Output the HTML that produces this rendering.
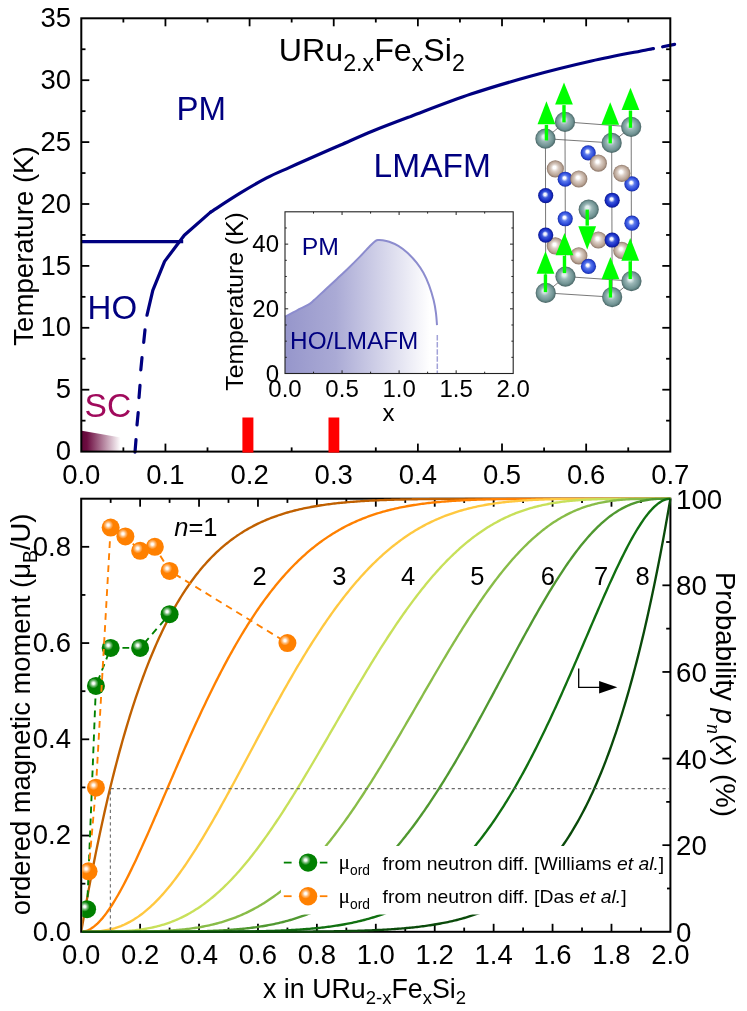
<!DOCTYPE html>
<html><head><meta charset="utf-8"><title>URu2-xFexSi2 phase diagram</title>
<style>html,body{margin:0;padding:0;background:#fff;}svg{display:block;will-change:transform;}text{font-family:"Liberation Sans",sans-serif;}</style></head><body>
<svg width="747" height="1011" viewBox="0 0 747 1011">
<rect x="0" y="0" width="747" height="1011" fill="#fff"/>
<defs>
<linearGradient id="gsc" x1="0" y1="0" x2="1" y2="0"><stop offset="0" stop-color="#600838"/><stop offset="0.12" stop-color="#6c0c40"/><stop offset="0.93" stop-color="#ffffff"/></linearGradient>
<linearGradient id="gin" gradientUnits="userSpaceOnUse" x1="285" y1="0" x2="429.91" y2="0"><stop offset="0" stop-color="#9696cb"/><stop offset="0.35" stop-color="#aaaad5"/><stop offset="1" stop-color="#ffffff"/></linearGradient>
<radialGradient id="gO" cx="0.5" cy="0.5" r="0.5" fx="0.36" fy="0.33"><stop offset="0" stop-color="#ffffff"/><stop offset="0.16" stop-color="#ffffff"/><stop offset="0.42" stop-color="#ff9a38"/><stop offset="0.8" stop-color="#ff8000"/><stop offset="1" stop-color="#f87800"/></radialGradient>
<radialGradient id="gG" cx="0.5" cy="0.5" r="0.5" fx="0.36" fy="0.33"><stop offset="0" stop-color="#ffffff"/><stop offset="0.16" stop-color="#ffffff"/><stop offset="0.42" stop-color="#2f9a2f"/><stop offset="0.8" stop-color="#0a7e0a"/><stop offset="1" stop-color="#087408"/></radialGradient>
<radialGradient id="gU" cx="0.5" cy="0.5" r="0.5" fx="0.42" fy="0.38"><stop offset="0" stop-color="#e2eeee"/><stop offset="0.16" stop-color="#e2eeee"/><stop offset="0.42" stop-color="#9ab6b6"/><stop offset="0.8" stop-color="#6f9292"/><stop offset="1" stop-color="#486464"/></radialGradient>
<radialGradient id="gRu" cx="0.5" cy="0.5" r="0.5" fx="0.44" fy="0.4"><stop offset="0" stop-color="#ffffff"/><stop offset="0.16" stop-color="#ffffff"/><stop offset="0.42" stop-color="#5c7aec"/><stop offset="0.8" stop-color="#2a48d8"/><stop offset="1" stop-color="#182ca4"/></radialGradient>
<radialGradient id="gRuF" cx="0.5" cy="0.5" r="0.5" fx="0.45" fy="0.41"><stop offset="0" stop-color="#f4f6ff"/><stop offset="0.16" stop-color="#f4f6ff"/><stop offset="0.42" stop-color="#3c58dc"/><stop offset="0.8" stop-color="#1428c0"/><stop offset="1" stop-color="#0c1888"/></radialGradient>
<radialGradient id="gSi" cx="0.5" cy="0.5" r="0.5" fx="0.44" fy="0.4"><stop offset="0" stop-color="#ffffff"/><stop offset="0.16" stop-color="#ffffff"/><stop offset="0.42" stop-color="#dccfc6"/><stop offset="0.8" stop-color="#b8a394"/><stop offset="1" stop-color="#8a7466"/></radialGradient>
<radialGradient id="hl" cx="0.5" cy="0.5" r="0.5"><stop offset="0" stop-color="#fff" stop-opacity="1"/><stop offset="0.22" stop-color="#fff" stop-opacity="0.95"/><stop offset="0.58" stop-color="#fff" stop-opacity="0.45"/><stop offset="1" stop-color="#fff" stop-opacity="0"/></radialGradient>
<clipPath id="cpB"><rect x="82.2" y="497.5" width="589.4" height="435.5"/></clipPath>
<clipPath id="cpBd"><rect x="82.2" y="486.7" width="601.2" height="446.1"/></clipPath>
</defs>
<g id="top">
<polygon points="81.9,430.7 123.5,438 123.5,451.6 81.9,451.6" fill="url(#gsc)"/>
<line x1="81.3" y1="241.6" x2="183.2" y2="241.6" stroke="#000080" stroke-width="3.2" />
<polyline points="147,315.2 152.8,290.3 164.6,261.4 184.3,235.3 210.6,212.1" fill="none" stroke="#000080" stroke-width="3.2" stroke-linecap="round" stroke-linejoin="round"/>
<path d="M210.6,212.1 C215.52,208.95 230.75,198.9 240.1,193.2 C249.45,187.5 258.52,182.17 266.7,177.9 C274.88,173.63 282.23,170.75 289.2,167.6 C296.17,164.45 299.93,162.77 308.5,159 C317.07,155.23 329.88,149.67 340.6,145 C351.32,140.33 361.12,135.77 372.8,131 C384.48,126.23 394.33,122.55 410.7,116.4 C427.07,110.25 450.92,100.83 471,94.1 C491.08,87.37 511.13,81.52 531.2,76 C551.27,70.48 572.43,65.3 591.4,61 C610.37,56.7 634.67,52.27 645,50.2 C655.33,48.13 652,48.87 653.4,48.6" fill="none" stroke="#000080" stroke-width="3.2" stroke-linecap="round" stroke-linejoin="round"/>
<line x1="662.6" y1="46.8" x2="674.6" y2="44.4" stroke="#000080" stroke-width="3.2" stroke-linecap="round"/>
<line x1="145" y1="329.8" x2="143.7" y2="342.4" stroke="#000080" stroke-width="3.2" stroke-linecap="round"/>
<line x1="142" y1="357.6" x2="140.8" y2="369.8" stroke="#000080" stroke-width="3.2" stroke-linecap="round"/>
<line x1="140" y1="385.3" x2="139" y2="397.6" stroke="#000080" stroke-width="3.2" stroke-linecap="round"/>
<line x1="138.2" y1="412.7" x2="137" y2="425" stroke="#000080" stroke-width="3.2" stroke-linecap="round"/>
<line x1="136" y1="439.6" x2="135" y2="452.2" stroke="#000080" stroke-width="3.2" stroke-linecap="round"/>
<rect x="81.3" y="18.3" width="589" height="433.3" fill="none" stroke="#000" stroke-width="2"/>
<line x1="123.37" y1="451.6" x2="123.37" y2="447.4" stroke="#000" stroke-width="1.8" />
<line x1="123.37" y1="18.3" x2="123.37" y2="22.5" stroke="#000" stroke-width="1.8" />
<line x1="165.44" y1="451.6" x2="165.44" y2="443.6" stroke="#000" stroke-width="1.8" />
<line x1="165.44" y1="18.3" x2="165.44" y2="26.3" stroke="#000" stroke-width="1.8" />
<line x1="207.51" y1="451.6" x2="207.51" y2="447.4" stroke="#000" stroke-width="1.8" />
<line x1="207.51" y1="18.3" x2="207.51" y2="22.5" stroke="#000" stroke-width="1.8" />
<line x1="249.59" y1="451.6" x2="249.59" y2="443.6" stroke="#000" stroke-width="1.8" />
<line x1="249.59" y1="18.3" x2="249.59" y2="26.3" stroke="#000" stroke-width="1.8" />
<line x1="291.66" y1="451.6" x2="291.66" y2="447.4" stroke="#000" stroke-width="1.8" />
<line x1="291.66" y1="18.3" x2="291.66" y2="22.5" stroke="#000" stroke-width="1.8" />
<line x1="333.73" y1="451.6" x2="333.73" y2="443.6" stroke="#000" stroke-width="1.8" />
<line x1="333.73" y1="18.3" x2="333.73" y2="26.3" stroke="#000" stroke-width="1.8" />
<line x1="375.8" y1="451.6" x2="375.8" y2="447.4" stroke="#000" stroke-width="1.8" />
<line x1="375.8" y1="18.3" x2="375.8" y2="22.5" stroke="#000" stroke-width="1.8" />
<line x1="417.87" y1="451.6" x2="417.87" y2="443.6" stroke="#000" stroke-width="1.8" />
<line x1="417.87" y1="18.3" x2="417.87" y2="26.3" stroke="#000" stroke-width="1.8" />
<line x1="459.94" y1="451.6" x2="459.94" y2="447.4" stroke="#000" stroke-width="1.8" />
<line x1="459.94" y1="18.3" x2="459.94" y2="22.5" stroke="#000" stroke-width="1.8" />
<line x1="502.01" y1="451.6" x2="502.01" y2="443.6" stroke="#000" stroke-width="1.8" />
<line x1="502.01" y1="18.3" x2="502.01" y2="26.3" stroke="#000" stroke-width="1.8" />
<line x1="544.09" y1="451.6" x2="544.09" y2="447.4" stroke="#000" stroke-width="1.8" />
<line x1="544.09" y1="18.3" x2="544.09" y2="22.5" stroke="#000" stroke-width="1.8" />
<line x1="586.16" y1="451.6" x2="586.16" y2="443.6" stroke="#000" stroke-width="1.8" />
<line x1="586.16" y1="18.3" x2="586.16" y2="26.3" stroke="#000" stroke-width="1.8" />
<line x1="628.23" y1="451.6" x2="628.23" y2="447.4" stroke="#000" stroke-width="1.8" />
<line x1="628.23" y1="18.3" x2="628.23" y2="22.5" stroke="#000" stroke-width="1.8" />
<line x1="81.3" y1="420.65" x2="85.5" y2="420.65" stroke="#000" stroke-width="1.8" />
<line x1="670.3" y1="420.65" x2="666.1" y2="420.65" stroke="#000" stroke-width="1.8" />
<line x1="81.3" y1="389.7" x2="89.3" y2="389.7" stroke="#000" stroke-width="1.8" />
<line x1="670.3" y1="389.7" x2="662.3" y2="389.7" stroke="#000" stroke-width="1.8" />
<line x1="81.3" y1="358.75" x2="85.5" y2="358.75" stroke="#000" stroke-width="1.8" />
<line x1="670.3" y1="358.75" x2="666.1" y2="358.75" stroke="#000" stroke-width="1.8" />
<line x1="81.3" y1="327.8" x2="89.3" y2="327.8" stroke="#000" stroke-width="1.8" />
<line x1="670.3" y1="327.8" x2="662.3" y2="327.8" stroke="#000" stroke-width="1.8" />
<line x1="81.3" y1="296.85" x2="85.5" y2="296.85" stroke="#000" stroke-width="1.8" />
<line x1="670.3" y1="296.85" x2="666.1" y2="296.85" stroke="#000" stroke-width="1.8" />
<line x1="81.3" y1="265.9" x2="89.3" y2="265.9" stroke="#000" stroke-width="1.8" />
<line x1="670.3" y1="265.9" x2="662.3" y2="265.9" stroke="#000" stroke-width="1.8" />
<line x1="81.3" y1="234.95" x2="85.5" y2="234.95" stroke="#000" stroke-width="1.8" />
<line x1="670.3" y1="234.95" x2="666.1" y2="234.95" stroke="#000" stroke-width="1.8" />
<line x1="81.3" y1="204" x2="89.3" y2="204" stroke="#000" stroke-width="1.8" />
<line x1="670.3" y1="204" x2="662.3" y2="204" stroke="#000" stroke-width="1.8" />
<line x1="81.3" y1="173.05" x2="85.5" y2="173.05" stroke="#000" stroke-width="1.8" />
<line x1="670.3" y1="173.05" x2="666.1" y2="173.05" stroke="#000" stroke-width="1.8" />
<line x1="81.3" y1="142.1" x2="89.3" y2="142.1" stroke="#000" stroke-width="1.8" />
<line x1="670.3" y1="142.1" x2="662.3" y2="142.1" stroke="#000" stroke-width="1.8" />
<line x1="81.3" y1="111.15" x2="85.5" y2="111.15" stroke="#000" stroke-width="1.8" />
<line x1="670.3" y1="111.15" x2="666.1" y2="111.15" stroke="#000" stroke-width="1.8" />
<line x1="81.3" y1="80.2" x2="89.3" y2="80.2" stroke="#000" stroke-width="1.8" />
<line x1="670.3" y1="80.2" x2="662.3" y2="80.2" stroke="#000" stroke-width="1.8" />
<line x1="81.3" y1="49.25" x2="85.5" y2="49.25" stroke="#000" stroke-width="1.8" />
<line x1="670.3" y1="49.25" x2="666.1" y2="49.25" stroke="#000" stroke-width="1.8" />
<rect x="242.4" y="417.5" width="11" height="35.1" fill="#ff0000"/>
<rect x="328.5" y="417.5" width="10.8" height="35.1" fill="#ff0000"/>
<text x="71" y="460.2" font-size="27.5" text-anchor="end" fill="#000" font-family='"Liberation Sans", sans-serif' >0</text>
<text x="71" y="398.3" font-size="27.5" text-anchor="end" fill="#000" font-family='"Liberation Sans", sans-serif' >5</text>
<text x="71" y="336.4" font-size="27.5" text-anchor="end" fill="#000" font-family='"Liberation Sans", sans-serif' >10</text>
<text x="71" y="274.5" font-size="27.5" text-anchor="end" fill="#000" font-family='"Liberation Sans", sans-serif' >15</text>
<text x="71" y="212.6" font-size="27.5" text-anchor="end" fill="#000" font-family='"Liberation Sans", sans-serif' >20</text>
<text x="71" y="150.7" font-size="27.5" text-anchor="end" fill="#000" font-family='"Liberation Sans", sans-serif' >25</text>
<text x="71" y="88.8" font-size="27.5" text-anchor="end" fill="#000" font-family='"Liberation Sans", sans-serif' >30</text>
<text x="71" y="26.9" font-size="27.5" text-anchor="end" fill="#000" font-family='"Liberation Sans", sans-serif' >35</text>
<text x="81.3" y="483.5" font-size="27.5" text-anchor="middle" fill="#000" font-family='"Liberation Sans", sans-serif' >0.0</text>
<text x="165.44" y="483.5" font-size="27.5" text-anchor="middle" fill="#000" font-family='"Liberation Sans", sans-serif' >0.1</text>
<text x="249.59" y="483.5" font-size="27.5" text-anchor="middle" fill="#000" font-family='"Liberation Sans", sans-serif' >0.2</text>
<text x="333.73" y="483.5" font-size="27.5" text-anchor="middle" fill="#000" font-family='"Liberation Sans", sans-serif' >0.3</text>
<text x="417.87" y="483.5" font-size="27.5" text-anchor="middle" fill="#000" font-family='"Liberation Sans", sans-serif' >0.4</text>
<text x="502.01" y="483.5" font-size="27.5" text-anchor="middle" fill="#000" font-family='"Liberation Sans", sans-serif' >0.5</text>
<text x="586.16" y="483.5" font-size="27.5" text-anchor="middle" fill="#000" font-family='"Liberation Sans", sans-serif' >0.6</text>
<text x="670.3" y="483.5" font-size="27.5" text-anchor="middle" fill="#000" font-family='"Liberation Sans", sans-serif' >0.7</text>
<text transform="translate(32.8,246) rotate(-90)" font-size="27.6" text-anchor="middle">Temperature (K)</text>
<text x="278.8" y="61.3" font-size="32.2">URu<tspan font-size="23.2" dy="9.6">2.x</tspan><tspan dy="-9.6">Fe</tspan><tspan font-size="23.2" dy="9.6">x</tspan><tspan dy="-9.6">Si</tspan><tspan font-size="23.2" dy="9.6">2</tspan></text>
<text x="176.6" y="119.9" font-size="33" text-anchor="start" fill="#000080" font-family='"Liberation Sans", sans-serif' >PM</text>
<text x="373.6" y="176.5" font-size="33.5" text-anchor="start" fill="#000080" font-family='"Liberation Sans", sans-serif' >LMAFM</text>
<text x="87.6" y="318.8" font-size="33" text-anchor="start" fill="#000080" font-family='"Liberation Sans", sans-serif' >HO</text>
<text x="84.6" y="417.3" font-size="33.6" text-anchor="start" fill="#a00a5c" font-family='"Liberation Sans", sans-serif' >SC</text>
</g>
<g id="inset">
<path d="M285,316.7 C287.02,315.63 293.2,312.3 297.1,310.3 C301,308.3 305.57,306.4 308.4,304.7 C311.23,303 311.25,302.65 314.1,300.1 C316.95,297.55 321.7,292.93 325.5,289.4 C329.3,285.87 333.1,282.43 336.9,278.9 C340.7,275.37 344.5,271.87 348.3,268.2 C352.1,264.53 355.92,260.77 359.7,256.9 C363.48,253.03 368.35,247.67 371,245 C373.65,242.33 374.38,241.73 375.6,240.9 C376.82,240.07 377.17,240.12 378.3,240 C379.43,239.88 380.58,239.9 382.4,240.2 C384.22,240.5 386.55,240.85 389.2,241.8 C391.85,242.75 395.27,244.07 398.3,245.9 C401.33,247.73 404.35,250.02 407.4,252.8 C410.45,255.58 413.93,259.27 416.6,262.6 C419.27,265.93 421.32,269.02 423.4,272.8 C425.48,276.58 427.4,280.75 429.1,285.3 C430.8,289.85 432.47,295.55 433.6,300.1 C434.73,304.65 435.33,308.43 435.9,312.6 C436.47,316.77 436.82,323.02 437,325.1 L437.2,373.5 L285,373.5 Z" fill="url(#gin)"/>
<path d="M285,316.7 C287.02,315.63 293.2,312.3 297.1,310.3 C301,308.3 305.57,306.4 308.4,304.7 C311.23,303 311.25,302.65 314.1,300.1 C316.95,297.55 321.7,292.93 325.5,289.4 C329.3,285.87 333.1,282.43 336.9,278.9 C340.7,275.37 344.5,271.87 348.3,268.2 C352.1,264.53 355.92,260.77 359.7,256.9 C363.48,253.03 368.35,247.67 371,245 C373.65,242.33 374.38,241.73 375.6,240.9 C376.82,240.07 377.17,240.12 378.3,240 C379.43,239.88 380.58,239.9 382.4,240.2 C384.22,240.5 386.55,240.85 389.2,241.8 C391.85,242.75 395.27,244.07 398.3,245.9 C401.33,247.73 404.35,250.02 407.4,252.8 C410.45,255.58 413.93,259.27 416.6,262.6 C419.27,265.93 421.32,269.02 423.4,272.8 C425.48,276.58 427.4,280.75 429.1,285.3 C430.8,289.85 432.47,295.55 433.6,300.1 C434.73,304.65 435.33,308.43 435.9,312.6 C436.47,316.77 436.82,323.02 437,325.1" fill="none" stroke="#8c8cce" stroke-width="2"/>
<line x1="437.3" y1="335" x2="437.3" y2="373.5" stroke="#a2a2d8" stroke-width="1.5" stroke-dasharray="5.5,1.6"/>
<rect x="285" y="211.8" width="228.2" height="161.7" fill="none" stroke="#222" stroke-width="1.1"/>
<line x1="313.52" y1="373.5" x2="313.52" y2="371.7" stroke="#222" stroke-width="1" />
<line x1="313.52" y1="211.8" x2="313.52" y2="213.6" stroke="#222" stroke-width="1" />
<line x1="342.05" y1="373.5" x2="342.05" y2="370.3" stroke="#222" stroke-width="1" />
<line x1="342.05" y1="211.8" x2="342.05" y2="215" stroke="#222" stroke-width="1" />
<line x1="370.58" y1="373.5" x2="370.58" y2="371.7" stroke="#222" stroke-width="1" />
<line x1="370.58" y1="211.8" x2="370.58" y2="213.6" stroke="#222" stroke-width="1" />
<line x1="399.1" y1="373.5" x2="399.1" y2="370.3" stroke="#222" stroke-width="1" />
<line x1="399.1" y1="211.8" x2="399.1" y2="215" stroke="#222" stroke-width="1" />
<line x1="427.62" y1="373.5" x2="427.62" y2="371.7" stroke="#222" stroke-width="1" />
<line x1="427.62" y1="211.8" x2="427.62" y2="213.6" stroke="#222" stroke-width="1" />
<line x1="456.15" y1="373.5" x2="456.15" y2="370.3" stroke="#222" stroke-width="1" />
<line x1="456.15" y1="211.8" x2="456.15" y2="215" stroke="#222" stroke-width="1" />
<line x1="484.68" y1="373.5" x2="484.68" y2="371.7" stroke="#222" stroke-width="1" />
<line x1="484.68" y1="211.8" x2="484.68" y2="213.6" stroke="#222" stroke-width="1" />
<line x1="285" y1="357.33" x2="286.8" y2="357.33" stroke="#222" stroke-width="1" />
<line x1="513.2" y1="357.33" x2="511.4" y2="357.33" stroke="#222" stroke-width="1" />
<line x1="285" y1="341.16" x2="286.8" y2="341.16" stroke="#222" stroke-width="1" />
<line x1="513.2" y1="341.16" x2="511.4" y2="341.16" stroke="#222" stroke-width="1" />
<line x1="285" y1="324.99" x2="286.8" y2="324.99" stroke="#222" stroke-width="1" />
<line x1="513.2" y1="324.99" x2="511.4" y2="324.99" stroke="#222" stroke-width="1" />
<line x1="285" y1="308.82" x2="288.2" y2="308.82" stroke="#222" stroke-width="1" />
<line x1="513.2" y1="308.82" x2="510" y2="308.82" stroke="#222" stroke-width="1" />
<line x1="285" y1="292.65" x2="286.8" y2="292.65" stroke="#222" stroke-width="1" />
<line x1="513.2" y1="292.65" x2="511.4" y2="292.65" stroke="#222" stroke-width="1" />
<line x1="285" y1="276.48" x2="286.8" y2="276.48" stroke="#222" stroke-width="1" />
<line x1="513.2" y1="276.48" x2="511.4" y2="276.48" stroke="#222" stroke-width="1" />
<line x1="285" y1="260.31" x2="286.8" y2="260.31" stroke="#222" stroke-width="1" />
<line x1="513.2" y1="260.31" x2="511.4" y2="260.31" stroke="#222" stroke-width="1" />
<line x1="285" y1="244.14" x2="288.2" y2="244.14" stroke="#222" stroke-width="1" />
<line x1="513.2" y1="244.14" x2="510" y2="244.14" stroke="#222" stroke-width="1" />
<line x1="285" y1="227.97" x2="286.8" y2="227.97" stroke="#222" stroke-width="1" />
<line x1="513.2" y1="227.97" x2="511.4" y2="227.97" stroke="#222" stroke-width="1" />
<text x="279" y="381.5" font-size="24" text-anchor="end" fill="#000" font-family='"Liberation Sans", sans-serif' >0</text>
<text x="279" y="316.82" font-size="24" text-anchor="end" fill="#000" font-family='"Liberation Sans", sans-serif' >20</text>
<text x="279" y="252.14" font-size="24" text-anchor="end" fill="#000" font-family='"Liberation Sans", sans-serif' >40</text>
<text x="285" y="396.6" font-size="24" text-anchor="middle" fill="#000" font-family='"Liberation Sans", sans-serif' >0.0</text>
<text x="342.05" y="396.6" font-size="24" text-anchor="middle" fill="#000" font-family='"Liberation Sans", sans-serif' >0.5</text>
<text x="399.1" y="396.6" font-size="24" text-anchor="middle" fill="#000" font-family='"Liberation Sans", sans-serif' >1.0</text>
<text x="456.15" y="396.6" font-size="24" text-anchor="middle" fill="#000" font-family='"Liberation Sans", sans-serif' >1.5</text>
<text x="513.2" y="396.6" font-size="24" text-anchor="middle" fill="#000" font-family='"Liberation Sans", sans-serif' >2.0</text>
<text transform="translate(243.2,301.5) rotate(-90)" font-size="24.7" text-anchor="middle">Temperature (K)</text>
<text x="388.6" y="421.3" font-size="24" text-anchor="middle" fill="#000" font-family='"Liberation Sans", sans-serif' >x</text>
<text x="301.7" y="255.2" font-size="24.8" text-anchor="start" fill="#000080" font-family='"Liberation Sans", sans-serif' >PM</text>
<text x="290.1" y="349.3" font-size="24.3" text-anchor="start" fill="#000080" font-family='"Liberation Sans", sans-serif' >HO/LMAFM</text>
</g>
<g id="crystal">
<line x1="564.98" y1="121.89" x2="545.45" y2="138.7" stroke="#555" stroke-width="0.8" />
<line x1="545.45" y1="138.7" x2="611.68" y2="142.9" stroke="#555" stroke-width="0.8" />
<line x1="611.68" y1="142.9" x2="631.2" y2="126.84" stroke="#555" stroke-width="0.8" />
<line x1="631.2" y1="126.84" x2="564.98" y2="121.89" stroke="#555" stroke-width="0.8" />
<line x1="565.47" y1="276.59" x2="545.7" y2="292.9" stroke="#555" stroke-width="0.8" />
<line x1="545.7" y1="292.9" x2="612.17" y2="297.1" stroke="#555" stroke-width="0.8" />
<line x1="612.17" y1="297.1" x2="631.45" y2="281.04" stroke="#555" stroke-width="0.8" />
<line x1="631.45" y1="281.04" x2="565.47" y2="276.59" stroke="#555" stroke-width="0.8" />
<line x1="564.98" y1="121.89" x2="565.47" y2="276.59" stroke="#555" stroke-width="0.8" />
<line x1="545.45" y1="138.7" x2="545.7" y2="292.9" stroke="#555" stroke-width="0.8" />
<line x1="611.68" y1="142.9" x2="612.17" y2="297.1" stroke="#555" stroke-width="0.8" />
<line x1="631.2" y1="126.84" x2="631.45" y2="281.04" stroke="#555" stroke-width="0.8" />
<circle cx="564.98" cy="121.89" r="10.1" fill="url(#gU)"/>
<circle cx="631.2" cy="126.84" r="10.1" fill="url(#gU)"/>
<circle cx="565.47" cy="276.59" r="10.1" fill="url(#gU)"/>
<circle cx="631.45" cy="281.04" r="10.1" fill="url(#gU)"/>
<circle cx="588.2" cy="152.78" r="7.6" fill="url(#gRu)"/>
<circle cx="598.34" cy="163.16" r="8.6" fill="url(#gSi)"/>
<circle cx="631.94" cy="183.92" r="7.6" fill="url(#gRu)"/>
<circle cx="621.81" cy="173.29" r="8.6" fill="url(#gSi)"/>
<circle cx="555.34" cy="168.85" r="8.6" fill="url(#gSi)"/>
<circle cx="565.22" cy="179.23" r="7.6" fill="url(#gRu)"/>
<circle cx="578.81" cy="178.98" r="8.6" fill="url(#gSi)"/>
<circle cx="565.22" cy="218.76" r="7.6" fill="url(#gRu)"/>
<circle cx="631.94" cy="223.21" r="7.6" fill="url(#gRu)"/>
<circle cx="588.7" cy="209.62" r="10.1" fill="url(#gU)"/>
<circle cx="598.34" cy="240.02" r="8.6" fill="url(#gSi)"/>
<circle cx="621.81" cy="250.4" r="8.6" fill="url(#gSi)"/>
<circle cx="555.34" cy="245.95" r="8.6" fill="url(#gSi)"/>
<circle cx="545.7" cy="195.54" r="7.6" fill="url(#gRuF)"/>
<circle cx="612.17" cy="200.23" r="7.6" fill="url(#gRuF)"/>
<circle cx="545.7" cy="235.07" r="7.6" fill="url(#gRuF)"/>
<circle cx="612.17" cy="240.02" r="7.6" fill="url(#gRuF)"/>
<circle cx="578.81" cy="255.83" r="8.6" fill="url(#gSi)"/>
<circle cx="588.45" cy="266.46" r="7.6" fill="url(#gRu)"/>
<circle cx="545.45" cy="138.7" r="10.1" fill="url(#gU)"/>
<circle cx="611.68" cy="142.9" r="10.1" fill="url(#gU)"/>
<circle cx="545.7" cy="292.9" r="10.1" fill="url(#gU)"/>
<circle cx="612.17" cy="297.1" r="10.1" fill="url(#gU)"/>
<line x1="563.99" y1="122.39" x2="563.99" y2="105.1" stroke="#00ff00" stroke-width="3.4" />
<polygon points="555.09,104.6 572.88,104.6 563.99,82.6" fill="#00ff00"/>
<line x1="630.46" y1="127.83" x2="630.46" y2="110.53" stroke="#00ff00" stroke-width="3.4" />
<polygon points="621.57,110.03 639.36,110.03 630.46,87.79" fill="#00ff00"/>
<line x1="546.44" y1="140.43" x2="546.44" y2="124.87" stroke="#00ff00" stroke-width="3.4" />
<polygon points="537.55,124.37 555.34,124.37 546.44,101.14" fill="#00ff00"/>
<line x1="610.2" y1="143.39" x2="610.2" y2="125.36" stroke="#00ff00" stroke-width="3.4" />
<polygon points="601.3,124.86 619.09,124.86 610.2,102.37" fill="#00ff00"/>
<line x1="587.22" y1="209.62" x2="587.22" y2="225.68" stroke="#00ff00" stroke-width="3.4" />
<polygon points="578.32,226.18 596.11,226.18 587.22,249.41" fill="#00ff00"/>
<line x1="564.48" y1="273.13" x2="564.48" y2="255.84" stroke="#00ff00" stroke-width="3.4" />
<polygon points="555.58,255.34 573.38,255.34 564.48,233.1" fill="#00ff00"/>
<line x1="630.21" y1="279.06" x2="630.21" y2="261.27" stroke="#00ff00" stroke-width="3.4" />
<polygon points="621.32,260.77 639.11,260.77 630.21,238.04" fill="#00ff00"/>
<line x1="545.45" y1="292.16" x2="545.45" y2="274.37" stroke="#00ff00" stroke-width="3.4" />
<polygon points="536.56,273.87 554.35,273.87 545.45,251.14" fill="#00ff00"/>
<line x1="610.44" y1="297.59" x2="610.44" y2="279.81" stroke="#00ff00" stroke-width="3.4" />
<polygon points="601.55,279.31 619.34,279.31 610.44,257.07" fill="#00ff00"/>
</g>
<g id="bottom">
<rect x="81.2" y="498.7" width="589.2" height="433.1" fill="none" stroke="#000" stroke-width="2"/>
<line x1="110.66" y1="931.8" x2="110.66" y2="927.6" stroke="#000" stroke-width="1.8" />
<line x1="110.66" y1="498.7" x2="110.66" y2="502.9" stroke="#000" stroke-width="1.8" />
<line x1="140.12" y1="931.8" x2="140.12" y2="923.8" stroke="#000" stroke-width="1.8" />
<line x1="140.12" y1="498.7" x2="140.12" y2="506.7" stroke="#000" stroke-width="1.8" />
<line x1="169.58" y1="931.8" x2="169.58" y2="927.6" stroke="#000" stroke-width="1.8" />
<line x1="169.58" y1="498.7" x2="169.58" y2="502.9" stroke="#000" stroke-width="1.8" />
<line x1="199.04" y1="931.8" x2="199.04" y2="923.8" stroke="#000" stroke-width="1.8" />
<line x1="199.04" y1="498.7" x2="199.04" y2="506.7" stroke="#000" stroke-width="1.8" />
<line x1="228.5" y1="931.8" x2="228.5" y2="927.6" stroke="#000" stroke-width="1.8" />
<line x1="228.5" y1="498.7" x2="228.5" y2="502.9" stroke="#000" stroke-width="1.8" />
<line x1="257.96" y1="931.8" x2="257.96" y2="923.8" stroke="#000" stroke-width="1.8" />
<line x1="257.96" y1="498.7" x2="257.96" y2="506.7" stroke="#000" stroke-width="1.8" />
<line x1="287.42" y1="931.8" x2="287.42" y2="927.6" stroke="#000" stroke-width="1.8" />
<line x1="287.42" y1="498.7" x2="287.42" y2="502.9" stroke="#000" stroke-width="1.8" />
<line x1="316.88" y1="931.8" x2="316.88" y2="923.8" stroke="#000" stroke-width="1.8" />
<line x1="316.88" y1="498.7" x2="316.88" y2="506.7" stroke="#000" stroke-width="1.8" />
<line x1="346.34" y1="931.8" x2="346.34" y2="927.6" stroke="#000" stroke-width="1.8" />
<line x1="346.34" y1="498.7" x2="346.34" y2="502.9" stroke="#000" stroke-width="1.8" />
<line x1="375.8" y1="931.8" x2="375.8" y2="923.8" stroke="#000" stroke-width="1.8" />
<line x1="375.8" y1="498.7" x2="375.8" y2="506.7" stroke="#000" stroke-width="1.8" />
<line x1="405.26" y1="931.8" x2="405.26" y2="927.6" stroke="#000" stroke-width="1.8" />
<line x1="405.26" y1="498.7" x2="405.26" y2="502.9" stroke="#000" stroke-width="1.8" />
<line x1="434.72" y1="931.8" x2="434.72" y2="923.8" stroke="#000" stroke-width="1.8" />
<line x1="434.72" y1="498.7" x2="434.72" y2="506.7" stroke="#000" stroke-width="1.8" />
<line x1="464.18" y1="931.8" x2="464.18" y2="927.6" stroke="#000" stroke-width="1.8" />
<line x1="464.18" y1="498.7" x2="464.18" y2="502.9" stroke="#000" stroke-width="1.8" />
<line x1="493.64" y1="931.8" x2="493.64" y2="923.8" stroke="#000" stroke-width="1.8" />
<line x1="493.64" y1="498.7" x2="493.64" y2="506.7" stroke="#000" stroke-width="1.8" />
<line x1="523.1" y1="931.8" x2="523.1" y2="927.6" stroke="#000" stroke-width="1.8" />
<line x1="523.1" y1="498.7" x2="523.1" y2="502.9" stroke="#000" stroke-width="1.8" />
<line x1="552.56" y1="931.8" x2="552.56" y2="923.8" stroke="#000" stroke-width="1.8" />
<line x1="552.56" y1="498.7" x2="552.56" y2="506.7" stroke="#000" stroke-width="1.8" />
<line x1="582.02" y1="931.8" x2="582.02" y2="927.6" stroke="#000" stroke-width="1.8" />
<line x1="582.02" y1="498.7" x2="582.02" y2="502.9" stroke="#000" stroke-width="1.8" />
<line x1="611.48" y1="931.8" x2="611.48" y2="923.8" stroke="#000" stroke-width="1.8" />
<line x1="611.48" y1="498.7" x2="611.48" y2="506.7" stroke="#000" stroke-width="1.8" />
<line x1="640.94" y1="931.8" x2="640.94" y2="927.6" stroke="#000" stroke-width="1.8" />
<line x1="640.94" y1="498.7" x2="640.94" y2="502.9" stroke="#000" stroke-width="1.8" />
<line x1="81.2" y1="883.68" x2="85.4" y2="883.68" stroke="#000" stroke-width="1.8" />
<line x1="81.2" y1="835.56" x2="89.2" y2="835.56" stroke="#000" stroke-width="1.8" />
<line x1="81.2" y1="787.43" x2="85.4" y2="787.43" stroke="#000" stroke-width="1.8" />
<line x1="81.2" y1="739.31" x2="89.2" y2="739.31" stroke="#000" stroke-width="1.8" />
<line x1="81.2" y1="691.19" x2="85.4" y2="691.19" stroke="#000" stroke-width="1.8" />
<line x1="81.2" y1="643.07" x2="89.2" y2="643.07" stroke="#000" stroke-width="1.8" />
<line x1="81.2" y1="594.94" x2="85.4" y2="594.94" stroke="#000" stroke-width="1.8" />
<line x1="81.2" y1="546.82" x2="89.2" y2="546.82" stroke="#000" stroke-width="1.8" />
<line x1="670.4" y1="888.49" x2="666.2" y2="888.49" stroke="#000" stroke-width="1.8" />
<line x1="670.4" y1="845.18" x2="662.4" y2="845.18" stroke="#000" stroke-width="1.8" />
<line x1="670.4" y1="801.87" x2="666.2" y2="801.87" stroke="#000" stroke-width="1.8" />
<line x1="670.4" y1="758.56" x2="662.4" y2="758.56" stroke="#000" stroke-width="1.8" />
<line x1="670.4" y1="715.25" x2="666.2" y2="715.25" stroke="#000" stroke-width="1.8" />
<line x1="670.4" y1="671.94" x2="662.4" y2="671.94" stroke="#000" stroke-width="1.8" />
<line x1="670.4" y1="628.63" x2="666.2" y2="628.63" stroke="#000" stroke-width="1.8" />
<line x1="670.4" y1="585.32" x2="662.4" y2="585.32" stroke="#000" stroke-width="1.8" />
<line x1="670.4" y1="542.01" x2="666.2" y2="542.01" stroke="#000" stroke-width="1.8" />
<g clip-path="url(#cpB)">
<polyline points="81.2,931.8 82.67,923.21 84.15,914.78 85.62,906.49 87.09,898.34 88.56,890.34 90.04,882.48 91.51,874.75 92.98,867.17 94.46,859.71 95.93,852.39 97.4,845.2 98.88,838.14 100.35,831.2 101.82,824.39 103.3,817.7 104.77,811.13 106.24,804.68 107.71,798.35 109.19,792.13 110.66,786.03 112.13,780.03 113.61,774.15 115.08,768.37 116.55,762.7 118.03,757.14 119.5,751.68 120.97,746.32 122.44,741.05 123.92,735.89 125.39,730.83 126.86,725.85 128.34,720.98 129.81,716.19 131.28,711.49 132.75,706.89 134.23,702.37 135.7,697.93 137.17,693.58 138.65,689.32 140.12,685.14 141.59,681.03 143.07,677.01 144.54,673.06 146.01,669.19 147.49,665.4 148.96,661.68 150.43,658.03 151.9,654.46 153.38,650.95 154.85,647.52 156.32,644.15 157.8,640.85 159.27,637.61 160.74,634.44 162.22,631.34 163.69,628.29 165.16,625.31 166.63,622.39 168.11,619.52 169.58,616.72 171.05,613.97 172.53,611.27 174,608.64 175.47,606.06 176.94,603.53 178.42,601.05 179.89,598.62 181.36,596.25 182.84,593.92 184.31,591.64 185.78,589.41 187.26,587.23 188.73,585.1 190.2,583 191.68,580.96 193.15,578.95 194.62,576.99 196.09,575.08 197.57,573.2 199.04,571.36 200.51,569.57 201.99,567.81 203.46,566.09 204.93,564.41 206.4,562.76 207.88,561.15 209.35,559.58 210.82,558.04 212.3,556.54 213.77,555.06 215.24,553.63 216.72,552.22 218.19,550.85 219.66,549.5 221.13,548.19 222.61,546.91 224.08,545.65 225.55,544.43 227.03,543.23 228.5,542.06 229.97,540.92 231.45,539.8 232.92,538.71 234.39,537.64 235.87,536.6 237.34,535.59 238.81,534.6 240.28,533.63 241.76,532.68 243.23,531.76 244.7,530.86 246.18,529.98 247.65,529.12 249.12,528.28 250.59,527.47 252.07,526.67 253.54,525.89 255.01,525.13 256.49,524.39 257.96,523.67 259.43,522.96 260.91,522.28 262.38,521.61 263.85,520.95 265.32,520.32 266.8,519.69 268.27,519.09 269.74,518.5 271.22,517.92 272.69,517.36 274.16,516.82 275.64,516.29 277.11,515.77 278.58,515.26 280.06,514.77 281.53,514.29 283,513.83 284.47,513.37 285.95,512.93 287.42,512.5 288.89,512.08 290.37,511.67 291.84,511.28 293.31,510.89 294.78,510.51 296.26,510.15 297.73,509.79 299.2,509.45 300.68,509.11 302.15,508.78 303.62,508.47 305.1,508.16 306.57,507.86 308.04,507.56 309.51,507.28 310.99,507 312.46,506.73 313.93,506.47 315.41,506.22 316.88,505.97 318.35,505.74 319.83,505.5 321.3,505.28 322.77,505.06 324.24,504.85 325.72,504.64 327.19,504.44 328.66,504.25 330.14,504.06 331.61,503.88 333.08,503.7 334.56,503.53 336.03,503.36 337.5,503.2 338.97,503.04 340.45,502.89 341.92,502.74 343.39,502.6 344.87,502.46 346.34,502.33 347.81,502.2 349.29,502.07 350.76,501.95 352.23,501.83 353.7,501.72 355.18,501.61 356.65,501.5 358.12,501.4 359.6,501.3 361.07,501.2 362.54,501.11 364.02,501.02 365.49,500.93 366.96,500.84 368.43,500.76 369.91,500.68 371.38,500.61 372.85,500.53 374.33,500.46 375.8,500.39 377.27,500.33 378.75,500.26 380.22,500.2 381.69,500.14 383.16,500.08 384.64,500.03 386.11,499.97 387.58,499.92 389.06,499.87 390.53,499.82 392,499.78 393.48,499.73 394.95,499.69 396.42,499.65 397.89,499.61 399.37,499.57 400.84,499.53 402.31,499.5 403.79,499.46 405.26,499.43 406.73,499.4 408.21,499.37 409.68,499.34 411.15,499.31 412.62,499.28 414.1,499.26 415.57,499.23 417.04,499.21 418.52,499.18 419.99,499.16 421.46,499.14 422.94,499.12 424.41,499.1 425.88,499.08 427.35,499.06 428.83,499.05 430.3,499.03 431.77,499.01 433.25,499 434.72,498.98 436.19,498.97 437.67,498.96 439.14,498.94 440.61,498.93 442.08,498.92 443.56,498.91 445.03,498.9 446.5,498.89 447.98,498.88 449.45,498.87 450.92,498.86 452.4,498.85 453.87,498.84 455.34,498.84 456.81,498.83 458.29,498.82 459.76,498.82 461.23,498.81 462.71,498.8 464.18,498.8 465.65,498.79 467.13,498.79 468.6,498.78 470.07,498.78 471.54,498.77 473.02,498.77 474.49,498.76 475.96,498.76 477.44,498.76 478.91,498.75 480.38,498.75 481.86,498.75 483.33,498.74 484.8,498.74 486.27,498.74 487.75,498.74 489.22,498.73 490.69,498.73 492.17,498.73 493.64,498.73 495.11,498.73 496.59,498.72 498.06,498.72 499.53,498.72 501,498.72 502.48,498.72 503.95,498.72 505.42,498.72 506.9,498.72 508.37,498.71 509.84,498.71 511.32,498.71 512.79,498.71 514.26,498.71 515.74,498.71 517.21,498.71 518.68,498.71 520.15,498.71 521.63,498.71 523.1,498.71 524.57,498.71 526.05,498.71 527.52,498.71 528.99,498.7 530.46,498.7 531.94,498.7 533.41,498.7 534.88,498.7 536.36,498.7 537.83,498.7 539.3,498.7 540.78,498.7 542.25,498.7 543.72,498.7 545.19,498.7 546.67,498.7 548.14,498.7 549.61,498.7 551.09,498.7 552.56,498.7 554.03,498.7 555.51,498.7 556.98,498.7 558.45,498.7 559.92,498.7 561.4,498.7 562.87,498.7 564.34,498.7 565.82,498.7 567.29,498.7 568.76,498.7 570.24,498.7 571.71,498.7 573.18,498.7 574.65,498.7 576.13,498.7 577.6,498.7 579.07,498.7 580.55,498.7 582.02,498.7 583.49,498.7 584.97,498.7 586.44,498.7 587.91,498.7 589.38,498.7 590.86,498.7 592.33,498.7 593.8,498.7 595.28,498.7 596.75,498.7 598.22,498.7 599.7,498.7 601.17,498.7 602.64,498.7 604.12,498.7 605.59,498.7 607.06,498.7 608.53,498.7 610.01,498.7 611.48,498.7 612.95,498.7 614.43,498.7 615.9,498.7 617.37,498.7 618.84,498.7 620.32,498.7 621.79,498.7 623.26,498.7 624.74,498.7 626.21,498.7 627.68,498.7 629.16,498.7 630.63,498.7 632.1,498.7 633.57,498.7 635.05,498.7 636.52,498.7 637.99,498.7 639.47,498.7 640.94,498.7 642.41,498.7 643.89,498.7 645.36,498.7 646.83,498.7 648.3,498.7 649.78,498.7 651.25,498.7 652.72,498.7 654.2,498.7 655.67,498.7 657.14,498.7 658.62,498.7 660.09,498.7 661.56,498.7 663.03,498.7 664.51,498.7 665.98,498.7 667.45,498.7 668.93,498.7 670.4,498.7" fill="none" stroke="#c06000" stroke-width="2.35" stroke-linejoin="round"/>
<polyline points="81.2,931.8 82.67,931.72 84.15,931.5 85.62,931.14 87.09,930.63 88.56,930 90.04,929.23 91.51,928.34 92.98,927.32 94.46,926.19 95.93,924.94 97.4,923.59 98.88,922.12 100.35,920.56 101.82,918.89 103.3,917.13 104.77,915.28 106.24,913.34 107.71,911.31 109.19,909.2 110.66,907.01 112.13,904.74 113.61,902.4 115.08,899.99 116.55,897.52 118.03,894.97 119.5,892.37 120.97,889.71 122.44,886.99 123.92,884.22 125.39,881.39 126.86,878.52 128.34,875.6 129.81,872.64 131.28,869.63 132.75,866.59 134.23,863.51 135.7,860.39 137.17,857.24 138.65,854.06 140.12,850.86 141.59,847.62 143.07,844.36 144.54,841.08 146.01,837.77 147.49,834.45 148.96,831.11 150.43,827.75 151.9,824.38 153.38,820.99 154.85,817.59 156.32,814.19 157.8,810.77 159.27,807.35 160.74,803.93 162.22,800.49 163.69,797.06 165.16,793.63 166.63,790.19 168.11,786.76 169.58,783.33 171.05,779.9 172.53,776.47 174,773.06 175.47,769.64 176.94,766.24 178.42,762.84 179.89,759.46 181.36,756.08 182.84,752.72 184.31,749.37 185.78,746.03 187.26,742.7 188.73,739.39 190.2,736.1 191.68,732.82 193.15,729.55 194.62,726.31 196.09,723.08 197.57,719.88 199.04,716.69 200.51,713.52 201.99,710.37 203.46,707.24 204.93,704.14 206.4,701.05 207.88,697.99 209.35,694.95 210.82,691.93 212.3,688.94 213.77,685.97 215.24,683.03 216.72,680.11 218.19,677.22 219.66,674.35 221.13,671.51 222.61,668.69 224.08,665.9 225.55,663.13 227.03,660.39 228.5,657.68 229.97,655 231.45,652.34 232.92,649.71 234.39,647.11 235.87,644.53 237.34,641.99 238.81,639.47 240.28,636.98 241.76,634.51 243.23,632.08 244.7,629.67 246.18,627.29 247.65,624.94 249.12,622.62 250.59,620.32 252.07,618.05 253.54,615.82 255.01,613.61 256.49,611.42 257.96,609.27 259.43,607.14 260.91,605.05 262.38,602.98 263.85,600.93 265.32,598.92 266.8,596.93 268.27,594.97 269.74,593.04 271.22,591.14 272.69,589.26 274.16,587.41 275.64,585.58 277.11,583.79 278.58,582.02 280.06,580.27 281.53,578.56 283,576.87 284.47,575.2 285.95,573.56 287.42,571.95 288.89,570.36 290.37,568.8 291.84,567.26 293.31,565.75 294.78,564.26 296.26,562.8 297.73,561.36 299.2,559.94 300.68,558.55 302.15,557.19 303.62,555.84 305.1,554.52 306.57,553.23 308.04,551.95 309.51,550.7 310.99,549.47 312.46,548.26 313.93,547.08 315.41,545.91 316.88,544.77 318.35,543.65 319.83,542.55 321.3,541.47 322.77,540.41 324.24,539.37 325.72,538.36 327.19,537.36 328.66,536.38 330.14,535.42 331.61,534.48 333.08,533.55 334.56,532.65 336.03,531.77 337.5,530.9 338.97,530.05 340.45,529.22 341.92,528.4 343.39,527.61 344.87,526.83 346.34,526.06 347.81,525.32 349.29,524.59 350.76,523.87 352.23,523.17 353.7,522.49 355.18,521.82 356.65,521.17 358.12,520.53 359.6,519.9 361.07,519.29 362.54,518.7 364.02,518.11 365.49,517.54 366.96,516.99 368.43,516.45 369.91,515.92 371.38,515.4 372.85,514.9 374.33,514.41 375.8,513.93 377.27,513.46 378.75,513 380.22,512.56 381.69,512.12 383.16,511.7 384.64,511.29 386.11,510.89 387.58,510.5 389.06,510.12 390.53,509.75 392,509.39 393.48,509.03 394.95,508.69 396.42,508.36 397.89,508.04 399.37,507.72 400.84,507.42 402.31,507.12 403.79,506.83 405.26,506.55 406.73,506.28 408.21,506.01 409.68,505.75 411.15,505.5 412.62,505.26 414.1,505.02 415.57,504.8 417.04,504.57 418.52,504.36 419.99,504.15 421.46,503.95 422.94,503.75 424.41,503.56 425.88,503.38 427.35,503.2 428.83,503.03 430.3,502.86 431.77,502.7 433.25,502.54 434.72,502.39 436.19,502.24 437.67,502.1 439.14,501.96 440.61,501.83 442.08,501.7 443.56,501.58 445.03,501.46 446.5,501.35 447.98,501.23 449.45,501.13 450.92,501.02 452.4,500.92 453.87,500.83 455.34,500.74 456.81,500.65 458.29,500.56 459.76,500.48 461.23,500.4 462.71,500.32 464.18,500.25 465.65,500.18 467.13,500.11 468.6,500.04 470.07,499.98 471.54,499.92 473.02,499.86 474.49,499.8 475.96,499.75 477.44,499.7 478.91,499.65 480.38,499.6 481.86,499.56 483.33,499.51 484.8,499.47 486.27,499.43 487.75,499.39 489.22,499.36 490.69,499.32 492.17,499.29 493.64,499.26 495.11,499.23 496.59,499.2 498.06,499.17 499.53,499.15 501,499.12 502.48,499.1 503.95,499.07 505.42,499.05 506.9,499.03 508.37,499.01 509.84,498.99 511.32,498.98 512.79,498.96 514.26,498.94 515.74,498.93 517.21,498.91 518.68,498.9 520.15,498.89 521.63,498.88 523.1,498.87 524.57,498.85 526.05,498.84 527.52,498.83 528.99,498.83 530.46,498.82 531.94,498.81 533.41,498.8 534.88,498.79 536.36,498.79 537.83,498.78 539.3,498.78 540.78,498.77 542.25,498.76 543.72,498.76 545.19,498.76 546.67,498.75 548.14,498.75 549.61,498.74 551.09,498.74 552.56,498.74 554.03,498.73 555.51,498.73 556.98,498.73 558.45,498.73 559.92,498.72 561.4,498.72 562.87,498.72 564.34,498.72 565.82,498.72 567.29,498.71 568.76,498.71 570.24,498.71 571.71,498.71 573.18,498.71 574.65,498.71 576.13,498.71 577.6,498.71 579.07,498.71 580.55,498.71 582.02,498.71 583.49,498.7 584.97,498.7 586.44,498.7 587.91,498.7 589.38,498.7 590.86,498.7 592.33,498.7 593.8,498.7 595.28,498.7 596.75,498.7 598.22,498.7 599.7,498.7 601.17,498.7 602.64,498.7 604.12,498.7 605.59,498.7 607.06,498.7 608.53,498.7 610.01,498.7 611.48,498.7 612.95,498.7 614.43,498.7 615.9,498.7 617.37,498.7 618.84,498.7 620.32,498.7 621.79,498.7 623.26,498.7 624.74,498.7 626.21,498.7 627.68,498.7 629.16,498.7 630.63,498.7 632.1,498.7 633.57,498.7 635.05,498.7 636.52,498.7 637.99,498.7 639.47,498.7 640.94,498.7 642.41,498.7 643.89,498.7 645.36,498.7 646.83,498.7 648.3,498.7 649.78,498.7 651.25,498.7 652.72,498.7 654.2,498.7 655.67,498.7 657.14,498.7 658.62,498.7 660.09,498.7 661.56,498.7 663.03,498.7 664.51,498.7 665.98,498.7 667.45,498.7 668.93,498.7 670.4,498.7" fill="none" stroke="#ff8000" stroke-width="2.35" stroke-linejoin="round"/>
<polyline points="81.2,931.8 82.67,931.8 84.15,931.8 85.62,931.79 87.09,931.78 88.56,931.75 90.04,931.72 91.51,931.68 92.98,931.62 94.46,931.55 95.93,931.46 97.4,931.35 98.88,931.22 100.35,931.06 101.82,930.89 103.3,930.69 104.77,930.47 106.24,930.22 107.71,929.94 109.19,929.63 110.66,929.29 112.13,928.93 113.61,928.53 115.08,928.1 116.55,927.63 118.03,927.13 119.5,926.6 120.97,926.04 122.44,925.43 123.92,924.8 125.39,924.12 126.86,923.41 128.34,922.66 129.81,921.88 131.28,921.05 132.75,920.19 134.23,919.29 135.7,918.35 137.17,917.37 138.65,916.36 140.12,915.3 141.59,914.21 143.07,913.08 144.54,911.91 146.01,910.7 147.49,909.45 148.96,908.16 150.43,906.84 151.9,905.47 153.38,904.07 154.85,902.63 156.32,901.16 157.8,899.64 159.27,898.09 160.74,896.5 162.22,894.88 163.69,893.22 165.16,891.53 166.63,889.8 168.11,888.03 169.58,886.23 171.05,884.4 172.53,882.53 174,880.63 175.47,878.7 176.94,876.74 178.42,874.74 179.89,872.72 181.36,870.66 182.84,868.58 184.31,866.46 185.78,864.32 187.26,862.15 188.73,859.95 190.2,857.72 191.68,855.47 193.15,853.2 194.62,850.89 196.09,848.57 197.57,846.22 199.04,843.85 200.51,841.45 201.99,839.03 203.46,836.59 204.93,834.14 206.4,831.66 207.88,829.16 209.35,826.65 210.82,824.11 212.3,821.56 213.77,819 215.24,816.41 216.72,813.82 218.19,811.2 219.66,808.58 221.13,805.94 222.61,803.29 224.08,800.63 225.55,797.95 227.03,795.27 228.5,792.58 229.97,789.87 231.45,787.16 232.92,784.45 234.39,781.72 235.87,778.99 237.34,776.25 238.81,773.51 240.28,770.76 241.76,768.01 243.23,765.26 244.7,762.5 246.18,759.74 247.65,756.98 249.12,754.22 250.59,751.46 252.07,748.7 253.54,745.94 255.01,743.18 256.49,740.43 257.96,737.67 259.43,734.92 260.91,732.18 262.38,729.44 263.85,726.7 265.32,723.97 266.8,721.24 268.27,718.52 269.74,715.81 271.22,713.11 272.69,710.41 274.16,707.72 275.64,705.04 277.11,702.37 278.58,699.71 280.06,697.06 281.53,694.43 283,691.8 284.47,689.18 285.95,686.58 287.42,683.99 288.89,681.41 290.37,678.84 291.84,676.29 293.31,673.75 294.78,671.23 296.26,668.72 297.73,666.22 299.2,663.74 300.68,661.28 302.15,658.83 303.62,656.4 305.1,653.99 306.57,651.59 308.04,649.21 309.51,646.84 310.99,644.5 312.46,642.17 313.93,639.86 315.41,637.57 316.88,635.3 318.35,633.04 319.83,630.81 321.3,628.59 322.77,626.4 324.24,624.22 325.72,622.07 327.19,619.93 328.66,617.81 330.14,615.72 331.61,613.64 333.08,611.59 334.56,609.55 336.03,607.54 337.5,605.55 338.97,603.58 340.45,601.63 341.92,599.7 343.39,597.79 344.87,595.9 346.34,594.04 347.81,592.2 349.29,590.37 350.76,588.57 352.23,586.8 353.7,585.04 355.18,583.3 356.65,581.59 358.12,579.9 359.6,578.23 361.07,576.58 362.54,574.96 364.02,573.35 365.49,571.77 366.96,570.21 368.43,568.67 369.91,567.15 371.38,565.66 372.85,564.18 374.33,562.73 375.8,561.3 377.27,559.89 378.75,558.5 380.22,557.13 381.69,555.78 383.16,554.46 384.64,553.15 386.11,551.87 387.58,550.6 389.06,549.36 390.53,548.14 392,546.94 393.48,545.75 394.95,544.59 396.42,543.45 397.89,542.33 399.37,541.23 400.84,540.14 402.31,539.08 403.79,538.04 405.26,537.01 406.73,536 408.21,535.02 409.68,534.05 411.15,533.1 412.62,532.17 414.1,531.25 415.57,530.36 417.04,529.48 418.52,528.62 419.99,527.78 421.46,526.95 422.94,526.14 424.41,525.35 425.88,524.58 427.35,523.82 428.83,523.08 430.3,522.35 431.77,521.64 433.25,520.95 434.72,520.27 436.19,519.61 437.67,518.96 439.14,518.33 440.61,517.71 442.08,517.11 443.56,516.52 445.03,515.94 446.5,515.38 447.98,514.83 449.45,514.3 450.92,513.78 452.4,513.27 453.87,512.78 455.34,512.3 456.81,511.83 458.29,511.37 459.76,510.93 461.23,510.5 462.71,510.07 464.18,509.67 465.65,509.27 467.13,508.88 468.6,508.5 470.07,508.14 471.54,507.78 473.02,507.44 474.49,507.11 475.96,506.78 477.44,506.47 478.91,506.16 480.38,505.86 481.86,505.58 483.33,505.3 484.8,505.03 486.27,504.77 487.75,504.52 489.22,504.27 490.69,504.04 492.17,503.81 493.64,503.59 495.11,503.38 496.59,503.17 498.06,502.97 499.53,502.78 501,502.6 502.48,502.42 503.95,502.25 505.42,502.08 506.9,501.92 508.37,501.77 509.84,501.62 511.32,501.48 512.79,501.34 514.26,501.21 515.74,501.09 517.21,500.97 518.68,500.85 520.15,500.74 521.63,500.63 523.1,500.53 524.57,500.43 526.05,500.34 527.52,500.25 528.99,500.16 530.46,500.08 531.94,500 533.41,499.93 534.88,499.86 536.36,499.79 537.83,499.73 539.3,499.66 540.78,499.61 542.25,499.55 543.72,499.5 545.19,499.45 546.67,499.4 548.14,499.35 549.61,499.31 551.09,499.27 552.56,499.23 554.03,499.2 555.51,499.16 556.98,499.13 558.45,499.1 559.92,499.07 561.4,499.04 562.87,499.02 564.34,499 565.82,498.97 567.29,498.95 568.76,498.93 570.24,498.91 571.71,498.9 573.18,498.88 574.65,498.87 576.13,498.85 577.6,498.84 579.07,498.83 580.55,498.82 582.02,498.8 583.49,498.8 584.97,498.79 586.44,498.78 587.91,498.77 589.38,498.76 590.86,498.76 592.33,498.75 593.8,498.75 595.28,498.74 596.75,498.74 598.22,498.73 599.7,498.73 601.17,498.73 602.64,498.72 604.12,498.72 605.59,498.72 607.06,498.72 608.53,498.71 610.01,498.71 611.48,498.71 612.95,498.71 614.43,498.71 615.9,498.71 617.37,498.71 618.84,498.7 620.32,498.7 621.79,498.7 623.26,498.7 624.74,498.7 626.21,498.7 627.68,498.7 629.16,498.7 630.63,498.7 632.1,498.7 633.57,498.7 635.05,498.7 636.52,498.7 637.99,498.7 639.47,498.7 640.94,498.7 642.41,498.7 643.89,498.7 645.36,498.7 646.83,498.7 648.3,498.7 649.78,498.7 651.25,498.7 652.72,498.7 654.2,498.7 655.67,498.7 657.14,498.7 658.62,498.7 660.09,498.7 661.56,498.7 663.03,498.7 664.51,498.7 665.98,498.7 667.45,498.7 668.93,498.7 670.4,498.7" fill="none" stroke="#ffc840" stroke-width="2.35" stroke-linejoin="round"/>
<polyline points="81.2,931.8 82.67,931.8 84.15,931.8 85.62,931.8 87.09,931.8 88.56,931.8 90.04,931.8 91.51,931.8 92.98,931.8 94.46,931.79 95.93,931.79 97.4,931.78 98.88,931.78 100.35,931.77 101.82,931.76 103.3,931.75 104.77,931.73 106.24,931.71 107.71,931.69 109.19,931.67 110.66,931.64 112.13,931.61 113.61,931.57 115.08,931.53 116.55,931.48 118.03,931.42 119.5,931.36 120.97,931.3 122.44,931.22 123.92,931.14 125.39,931.05 126.86,930.95 128.34,930.85 129.81,930.73 131.28,930.6 132.75,930.47 134.23,930.32 135.7,930.17 137.17,930 138.65,929.82 140.12,929.62 141.59,929.42 143.07,929.2 144.54,928.97 146.01,928.72 147.49,928.46 148.96,928.19 150.43,927.9 151.9,927.59 153.38,927.27 154.85,926.93 156.32,926.57 157.8,926.2 159.27,925.81 160.74,925.4 162.22,924.97 163.69,924.53 165.16,924.06 166.63,923.58 168.11,923.08 169.58,922.55 171.05,922.01 172.53,921.44 174,920.86 175.47,920.25 176.94,919.62 178.42,918.97 179.89,918.3 181.36,917.6 182.84,916.88 184.31,916.14 185.78,915.38 187.26,914.59 188.73,913.78 190.2,912.94 191.68,912.08 193.15,911.2 194.62,910.29 196.09,909.36 197.57,908.41 199.04,907.42 200.51,906.42 201.99,905.39 203.46,904.33 204.93,903.25 206.4,902.14 207.88,901.01 209.35,899.86 210.82,898.67 212.3,897.47 213.77,896.23 215.24,894.98 216.72,893.69 218.19,892.38 219.66,891.05 221.13,889.69 222.61,888.3 224.08,886.89 225.55,885.45 227.03,883.99 228.5,882.51 229.97,881 231.45,879.46 232.92,877.9 234.39,876.31 235.87,874.7 237.34,873.07 238.81,871.41 240.28,869.73 241.76,868.02 243.23,866.29 244.7,864.54 246.18,862.76 247.65,860.96 249.12,859.14 250.59,857.29 252.07,855.42 253.54,853.53 255.01,851.62 256.49,849.69 257.96,847.73 259.43,845.76 260.91,843.76 262.38,841.74 263.85,839.71 265.32,837.65 266.8,835.57 268.27,833.48 269.74,831.36 271.22,829.23 272.69,827.08 274.16,824.91 275.64,822.72 277.11,820.52 278.58,818.3 280.06,816.06 281.53,813.81 283,811.54 284.47,809.25 285.95,806.95 287.42,804.64 288.89,802.31 290.37,799.97 291.84,797.62 293.31,795.25 294.78,792.87 296.26,790.48 297.73,788.08 299.2,785.67 300.68,783.24 302.15,780.81 303.62,778.36 305.1,775.91 306.57,773.45 308.04,770.98 309.51,768.5 310.99,766.01 312.46,763.52 313.93,761.02 315.41,758.51 316.88,756 318.35,753.48 319.83,750.96 321.3,748.43 322.77,745.9 324.24,743.37 325.72,740.83 327.19,738.29 328.66,735.75 330.14,733.21 331.61,730.67 333.08,728.12 334.56,725.58 336.03,723.03 337.5,720.49 338.97,717.95 340.45,715.41 341.92,712.87 343.39,710.33 344.87,707.8 346.34,705.27 347.81,702.74 349.29,700.22 350.76,697.71 352.23,695.19 353.7,692.69 355.18,690.19 356.65,687.69 358.12,685.21 359.6,682.73 361.07,680.25 362.54,677.79 364.02,675.33 365.49,672.89 366.96,670.45 368.43,668.02 369.91,665.6 371.38,663.19 372.85,660.8 374.33,658.41 375.8,656.04 377.27,653.67 378.75,651.32 380.22,648.99 381.69,646.66 383.16,644.35 384.64,642.05 386.11,639.77 387.58,637.5 389.06,635.24 390.53,633 392,630.78 393.48,628.57 394.95,626.37 396.42,624.19 397.89,622.03 399.37,619.88 400.84,617.75 402.31,615.64 403.79,613.55 405.26,611.47 406.73,609.41 408.21,607.37 409.68,605.35 411.15,603.34 412.62,601.36 414.1,599.39 415.57,597.44 417.04,595.51 418.52,593.6 419.99,591.71 421.46,589.84 422.94,587.99 424.41,586.16 425.88,584.35 427.35,582.56 428.83,580.79 430.3,579.04 431.77,577.31 433.25,575.6 434.72,573.92 436.19,572.25 437.67,570.61 439.14,568.98 440.61,567.38 442.08,565.8 443.56,564.24 445.03,562.7 446.5,561.18 447.98,559.69 449.45,558.21 450.92,556.76 452.4,555.33 453.87,553.92 455.34,552.53 456.81,551.16 458.29,549.82 459.76,548.49 461.23,547.19 462.71,545.91 464.18,544.65 465.65,543.41 467.13,542.19 468.6,541 470.07,539.82 471.54,538.67 473.02,537.53 474.49,536.42 475.96,535.33 477.44,534.26 478.91,533.21 480.38,532.18 481.86,531.17 483.33,530.18 484.8,529.21 486.27,528.26 487.75,527.33 489.22,526.42 490.69,525.53 492.17,524.66 493.64,523.81 495.11,522.97 496.59,522.16 498.06,521.36 499.53,520.59 501,519.83 502.48,519.09 503.95,518.37 505.42,517.66 506.9,516.98 508.37,516.31 509.84,515.65 511.32,515.02 512.79,514.4 514.26,513.8 515.74,513.21 517.21,512.64 518.68,512.09 520.15,511.55 521.63,511.03 523.1,510.52 524.57,510.03 526.05,509.55 527.52,509.09 528.99,508.64 530.46,508.21 531.94,507.79 533.41,507.38 534.88,506.99 536.36,506.6 537.83,506.24 539.3,505.88 540.78,505.54 542.25,505.21 543.72,504.89 545.19,504.58 546.67,504.28 548.14,504 549.61,503.72 551.09,503.46 552.56,503.21 554.03,502.96 555.51,502.73 556.98,502.51 558.45,502.29 559.92,502.09 561.4,501.89 562.87,501.7 564.34,501.52 565.82,501.35 567.29,501.19 568.76,501.03 570.24,500.88 571.71,500.74 573.18,500.61 574.65,500.48 576.13,500.36 577.6,500.24 579.07,500.14 580.55,500.03 582.02,499.94 583.49,499.84 584.97,499.76 586.44,499.68 587.91,499.6 589.38,499.53 590.86,499.46 592.33,499.4 593.8,499.34 595.28,499.28 596.75,499.23 598.22,499.18 599.7,499.14 601.17,499.1 602.64,499.06 604.12,499.03 605.59,498.99 607.06,498.96 608.53,498.94 610.01,498.91 611.48,498.89 612.95,498.87 614.43,498.85 615.9,498.83 617.37,498.81 618.84,498.8 620.32,498.79 621.79,498.77 623.26,498.76 624.74,498.76 626.21,498.75 627.68,498.74 629.16,498.73 630.63,498.73 632.1,498.72 633.57,498.72 635.05,498.72 636.52,498.71 637.99,498.71 639.47,498.71 640.94,498.71 642.41,498.71 643.89,498.7 645.36,498.7 646.83,498.7 648.3,498.7 649.78,498.7 651.25,498.7 652.72,498.7 654.2,498.7 655.67,498.7 657.14,498.7 658.62,498.7 660.09,498.7 661.56,498.7 663.03,498.7 664.51,498.7 665.98,498.7 667.45,498.7 668.93,498.7 670.4,498.7" fill="none" stroke="#c8e05a" stroke-width="2.35" stroke-linejoin="round"/>
<polyline points="81.2,931.8 82.67,931.8 84.15,931.8 85.62,931.8 87.09,931.8 88.56,931.8 90.04,931.8 91.51,931.8 92.98,931.8 94.46,931.8 95.93,931.8 97.4,931.8 98.88,931.8 100.35,931.8 101.82,931.8 103.3,931.8 104.77,931.8 106.24,931.8 107.71,931.8 109.19,931.79 110.66,931.79 112.13,931.79 113.61,931.79 115.08,931.79 116.55,931.78 118.03,931.78 119.5,931.78 120.97,931.77 122.44,931.77 123.92,931.76 125.39,931.75 126.86,931.74 128.34,931.74 129.81,931.73 131.28,931.71 132.75,931.7 134.23,931.69 135.7,931.67 137.17,931.65 138.65,931.63 140.12,931.61 141.59,931.59 143.07,931.56 144.54,931.54 146.01,931.51 147.49,931.47 148.96,931.44 150.43,931.4 151.9,931.36 153.38,931.32 154.85,931.27 156.32,931.22 157.8,931.16 159.27,931.1 160.74,931.04 162.22,930.97 163.69,930.9 165.16,930.82 166.63,930.74 168.11,930.66 169.58,930.56 171.05,930.47 172.53,930.36 174,930.26 175.47,930.14 176.94,930.02 178.42,929.89 179.89,929.76 181.36,929.62 182.84,929.47 184.31,929.31 185.78,929.15 187.26,928.98 188.73,928.8 190.2,928.61 191.68,928.41 193.15,928.21 194.62,927.99 196.09,927.77 197.57,927.54 199.04,927.29 200.51,927.04 201.99,926.78 203.46,926.5 204.93,926.22 206.4,925.92 207.88,925.61 209.35,925.29 210.82,924.96 212.3,924.62 213.77,924.26 215.24,923.9 216.72,923.51 218.19,923.12 219.66,922.71 221.13,922.29 222.61,921.86 224.08,921.41 225.55,920.95 227.03,920.47 228.5,919.98 229.97,919.47 231.45,918.95 232.92,918.41 234.39,917.86 235.87,917.29 237.34,916.7 238.81,916.1 240.28,915.48 241.76,914.85 243.23,914.19 244.7,913.52 246.18,912.84 247.65,912.13 249.12,911.41 250.59,910.67 252.07,909.91 253.54,909.14 255.01,908.34 256.49,907.53 257.96,906.69 259.43,905.84 260.91,904.97 262.38,904.08 263.85,903.17 265.32,902.24 266.8,901.29 268.27,900.32 269.74,899.33 271.22,898.32 272.69,897.29 274.16,896.24 275.64,895.17 277.11,894.08 278.58,892.97 280.06,891.83 281.53,890.68 283,889.5 284.47,888.31 285.95,887.09 287.42,885.85 288.89,884.59 290.37,883.31 291.84,882.01 293.31,880.68 294.78,879.34 296.26,877.97 297.73,876.58 299.2,875.17 300.68,873.74 302.15,872.29 303.62,870.81 305.1,869.32 306.57,867.8 308.04,866.26 309.51,864.7 310.99,863.12 312.46,861.52 313.93,859.89 315.41,858.25 316.88,856.58 318.35,854.9 319.83,853.19 321.3,851.46 322.77,849.71 324.24,847.94 325.72,846.15 327.19,844.34 328.66,842.51 330.14,840.66 331.61,838.79 333.08,836.9 334.56,834.99 336.03,833.06 337.5,831.11 338.97,829.14 340.45,827.16 341.92,825.15 343.39,823.13 344.87,821.09 346.34,819.03 347.81,816.95 349.29,814.86 350.76,812.75 352.23,810.62 353.7,808.47 355.18,806.31 356.65,804.13 358.12,801.93 359.6,799.72 361.07,797.5 362.54,795.26 364.02,793 365.49,790.73 366.96,788.45 368.43,786.15 369.91,783.84 371.38,781.51 372.85,779.18 374.33,776.83 375.8,774.46 377.27,772.09 378.75,769.7 380.22,767.31 381.69,764.9 383.16,762.48 384.64,760.05 386.11,757.61 387.58,755.17 389.06,752.71 390.53,750.25 392,747.77 393.48,745.29 394.95,742.81 396.42,740.31 397.89,737.81 399.37,735.31 400.84,732.79 402.31,730.28 403.79,727.76 405.26,725.23 406.73,722.7 408.21,720.17 409.68,717.63 411.15,715.09 412.62,712.55 414.1,710.01 415.57,707.47 417.04,704.92 418.52,702.38 419.99,699.83 421.46,697.29 422.94,694.75 424.41,692.21 425.88,689.67 427.35,687.13 428.83,684.6 430.3,682.07 431.77,679.54 433.25,677.02 434.72,674.5 436.19,671.99 437.67,669.48 439.14,666.98 440.61,664.49 442.08,662 443.56,659.52 445.03,657.05 446.5,654.59 447.98,652.14 449.45,649.69 450.92,647.26 452.4,644.83 453.87,642.42 455.34,640.02 456.81,637.63 458.29,635.25 459.76,632.88 461.23,630.53 462.71,628.19 464.18,625.86 465.65,623.55 467.13,621.25 468.6,618.96 470.07,616.69 471.54,614.44 473.02,612.2 474.49,609.98 475.96,607.78 477.44,605.59 478.91,603.42 480.38,601.27 481.86,599.14 483.33,597.02 484.8,594.93 486.27,592.85 487.75,590.79 489.22,588.76 490.69,586.74 492.17,584.74 493.64,582.77 495.11,580.81 496.59,578.88 498.06,576.97 499.53,575.08 501,573.21 502.48,571.36 503.95,569.54 505.42,567.74 506.9,565.96 508.37,564.21 509.84,562.48 511.32,560.77 512.79,559.09 514.26,557.43 515.74,555.8 517.21,554.19 518.68,552.6 520.15,551.04 521.63,549.5 523.1,547.99 524.57,546.51 526.05,545.05 527.52,543.61 528.99,542.2 530.46,540.81 531.94,539.45 533.41,538.12 534.88,536.81 536.36,535.52 537.83,534.27 539.3,533.03 540.78,531.83 542.25,530.64 543.72,529.49 545.19,528.36 546.67,527.25 548.14,526.17 549.61,525.11 551.09,524.08 552.56,523.08 554.03,522.09 555.51,521.14 556.98,520.21 558.45,519.3 559.92,518.42 561.4,517.56 562.87,516.72 564.34,515.91 565.82,515.12 567.29,514.36 568.76,513.62 570.24,512.9 571.71,512.2 573.18,511.53 574.65,510.88 576.13,510.25 577.6,509.64 579.07,509.06 580.55,508.49 582.02,507.95 583.49,507.42 584.97,506.92 586.44,506.44 587.91,505.97 589.38,505.53 590.86,505.1 592.33,504.69 593.8,504.3 595.28,503.93 596.75,503.57 598.22,503.23 599.7,502.91 601.17,502.6 602.64,502.31 604.12,502.04 605.59,501.78 607.06,501.53 608.53,501.3 610.01,501.08 611.48,500.88 612.95,500.68 614.43,500.5 615.9,500.33 617.37,500.18 618.84,500.03 620.32,499.9 621.79,499.77 623.26,499.65 624.74,499.55 626.21,499.45 627.68,499.36 629.16,499.28 630.63,499.2 632.1,499.14 633.57,499.08 635.05,499.02 636.52,498.97 637.99,498.93 639.47,498.89 640.94,498.86 642.41,498.83 643.89,498.81 645.36,498.79 646.83,498.77 648.3,498.75 649.78,498.74 651.25,498.73 652.72,498.72 654.2,498.72 655.67,498.71 657.14,498.71 658.62,498.7 660.09,498.7 661.56,498.7 663.03,498.7 664.51,498.7 665.98,498.7 667.45,498.7 668.93,498.7 670.4,498.7" fill="none" stroke="#88bc48" stroke-width="2.35" stroke-linejoin="round"/>
<polyline points="81.2,931.8 82.67,931.8 84.15,931.8 85.62,931.8 87.09,931.8 88.56,931.8 90.04,931.8 91.51,931.8 92.98,931.8 94.46,931.8 95.93,931.8 97.4,931.8 98.88,931.8 100.35,931.8 101.82,931.8 103.3,931.8 104.77,931.8 106.24,931.8 107.71,931.8 109.19,931.8 110.66,931.8 112.13,931.8 113.61,931.8 115.08,931.8 116.55,931.8 118.03,931.8 119.5,931.8 120.97,931.8 122.44,931.8 123.92,931.8 125.39,931.8 126.86,931.8 128.34,931.8 129.81,931.8 131.28,931.8 132.75,931.8 134.23,931.79 135.7,931.79 137.17,931.79 138.65,931.79 140.12,931.79 141.59,931.79 143.07,931.79 144.54,931.78 146.01,931.78 147.49,931.78 148.96,931.78 150.43,931.77 151.9,931.77 153.38,931.77 154.85,931.76 156.32,931.76 157.8,931.75 159.27,931.75 160.74,931.74 162.22,931.74 163.69,931.73 165.16,931.72 166.63,931.71 168.11,931.7 169.58,931.7 171.05,931.68 172.53,931.67 174,931.66 175.47,931.65 176.94,931.63 178.42,931.62 179.89,931.6 181.36,931.59 182.84,931.57 184.31,931.55 185.78,931.53 187.26,931.5 188.73,931.48 190.2,931.46 191.68,931.43 193.15,931.4 194.62,931.37 196.09,931.34 197.57,931.3 199.04,931.27 200.51,931.23 201.99,931.19 203.46,931.15 204.93,931.1 206.4,931.05 207.88,931 209.35,930.95 210.82,930.89 212.3,930.84 213.77,930.77 215.24,930.71 216.72,930.64 218.19,930.57 219.66,930.5 221.13,930.42 222.61,930.34 224.08,930.25 225.55,930.16 227.03,930.07 228.5,929.97 229.97,929.87 231.45,929.76 232.92,929.65 234.39,929.53 235.87,929.41 237.34,929.29 238.81,929.16 240.28,929.02 241.76,928.88 243.23,928.73 244.7,928.58 246.18,928.42 247.65,928.25 249.12,928.08 250.59,927.9 252.07,927.72 253.54,927.53 255.01,927.33 256.49,927.12 257.96,926.91 259.43,926.69 260.91,926.46 262.38,926.23 263.85,925.98 265.32,925.73 266.8,925.47 268.27,925.2 269.74,924.92 271.22,924.64 272.69,924.34 274.16,924.03 275.64,923.72 277.11,923.39 278.58,923.06 280.06,922.72 281.53,922.36 283,922 284.47,921.62 285.95,921.23 287.42,920.83 288.89,920.43 290.37,920 291.84,919.57 293.31,919.13 294.78,918.67 296.26,918.2 297.73,917.72 299.2,917.23 300.68,916.72 302.15,916.2 303.62,915.67 305.1,915.12 306.57,914.56 308.04,913.98 309.51,913.39 310.99,912.79 312.46,912.17 313.93,911.54 315.41,910.89 316.88,910.23 318.35,909.55 319.83,908.86 321.3,908.15 322.77,907.42 324.24,906.68 325.72,905.92 327.19,905.15 328.66,904.36 330.14,903.55 331.61,902.72 333.08,901.88 334.56,901.02 336.03,900.14 337.5,899.25 338.97,898.33 340.45,897.4 341.92,896.45 343.39,895.48 344.87,894.5 346.34,893.49 347.81,892.46 349.29,891.42 350.76,890.36 352.23,889.27 353.7,888.17 355.18,887.05 356.65,885.91 358.12,884.75 359.6,883.56 361.07,882.36 362.54,881.14 364.02,879.9 365.49,878.63 366.96,877.35 368.43,876.04 369.91,874.72 371.38,873.37 372.85,872 374.33,870.61 375.8,869.2 377.27,867.77 378.75,866.32 380.22,864.84 381.69,863.35 383.16,861.83 384.64,860.29 386.11,858.73 387.58,857.15 389.06,855.54 390.53,853.92 392,852.27 393.48,850.6 394.95,848.91 396.42,847.2 397.89,845.46 399.37,843.7 400.84,841.93 402.31,840.13 403.79,838.3 405.26,836.46 406.73,834.6 408.21,832.71 409.68,830.8 411.15,828.87 412.62,826.92 414.1,824.95 415.57,822.96 417.04,820.95 418.52,818.91 419.99,816.86 421.46,814.78 422.94,812.69 424.41,810.57 425.88,808.43 427.35,806.28 428.83,804.1 430.3,801.91 431.77,799.69 433.25,797.46 434.72,795.2 436.19,792.93 437.67,790.64 439.14,788.33 440.61,786 442.08,783.66 443.56,781.29 445.03,778.91 446.5,776.51 447.98,774.1 449.45,771.67 450.92,769.22 452.4,766.76 453.87,764.28 455.34,761.78 456.81,759.27 458.29,756.75 459.76,754.21 461.23,751.66 462.71,749.09 464.18,746.51 465.65,743.92 467.13,741.32 468.6,738.7 470.07,736.07 471.54,733.44 473.02,730.79 474.49,728.13 475.96,725.46 477.44,722.78 478.91,720.09 480.38,717.39 481.86,714.69 483.33,711.98 484.8,709.26 486.27,706.53 487.75,703.8 489.22,701.06 490.69,698.32 492.17,695.58 493.64,692.83 495.11,690.07 496.59,687.32 498.06,684.56 499.53,681.8 501,679.04 502.48,676.28 503.95,673.52 505.42,670.76 506.9,668 508.37,665.24 509.84,662.49 511.32,659.74 512.79,656.99 514.26,654.25 515.74,651.51 517.21,648.78 518.68,646.05 520.15,643.34 521.63,640.63 523.1,637.92 524.57,635.23 526.05,632.55 527.52,629.87 528.99,627.21 530.46,624.56 531.94,621.92 533.41,619.3 534.88,616.68 536.36,614.09 537.83,611.5 539.3,608.94 540.78,606.39 542.25,603.85 543.72,601.34 545.19,598.84 546.67,596.36 548.14,593.91 549.61,591.47 551.09,589.05 552.56,586.65 554.03,584.28 555.51,581.93 556.98,579.61 558.45,577.3 559.92,575.03 561.4,572.78 562.87,570.55 564.34,568.35 565.82,566.18 567.29,564.04 568.76,561.92 570.24,559.84 571.71,557.78 573.18,555.76 574.65,553.76 576.13,551.8 577.6,549.87 579.07,547.97 580.55,546.1 582.02,544.27 583.49,542.47 584.97,540.7 586.44,538.97 587.91,537.28 589.38,535.62 590.86,534 592.33,532.41 593.8,530.86 595.28,529.34 596.75,527.87 598.22,526.43 599.7,525.03 601.17,523.66 602.64,522.34 604.12,521.05 605.59,519.8 607.06,518.59 608.53,517.42 610.01,516.29 611.48,515.2 612.95,514.14 614.43,513.13 615.9,512.15 617.37,511.21 618.84,510.31 620.32,509.45 621.79,508.62 623.26,507.84 624.74,507.09 626.21,506.38 627.68,505.7 629.16,505.07 630.63,504.46 632.1,503.9 633.57,503.37 635.05,502.87 636.52,502.4 637.99,501.97 639.47,501.57 640.94,501.21 642.41,500.87 643.89,500.56 645.36,500.28 646.83,500.03 648.3,499.81 649.78,499.61 651.25,499.44 652.72,499.28 654.2,499.15 655.67,499.04 657.14,498.95 658.62,498.88 660.09,498.82 661.56,498.78 663.03,498.75 664.51,498.72 665.98,498.71 667.45,498.7 668.93,498.7 670.4,498.7" fill="none" stroke="#509830" stroke-width="2.35" stroke-linejoin="round"/>
<polyline points="81.2,931.8 82.67,931.8 84.15,931.8 85.62,931.8 87.09,931.8 88.56,931.8 90.04,931.8 91.51,931.8 92.98,931.8 94.46,931.8 95.93,931.8 97.4,931.8 98.88,931.8 100.35,931.8 101.82,931.8 103.3,931.8 104.77,931.8 106.24,931.8 107.71,931.8 109.19,931.8 110.66,931.8 112.13,931.8 113.61,931.8 115.08,931.8 116.55,931.8 118.03,931.8 119.5,931.8 120.97,931.8 122.44,931.8 123.92,931.8 125.39,931.8 126.86,931.8 128.34,931.8 129.81,931.8 131.28,931.8 132.75,931.8 134.23,931.8 135.7,931.8 137.17,931.8 138.65,931.8 140.12,931.8 141.59,931.8 143.07,931.8 144.54,931.8 146.01,931.8 147.49,931.8 148.96,931.8 150.43,931.8 151.9,931.8 153.38,931.8 154.85,931.8 156.32,931.8 157.8,931.8 159.27,931.8 160.74,931.8 162.22,931.8 163.69,931.8 165.16,931.8 166.63,931.8 168.11,931.8 169.58,931.79 171.05,931.79 172.53,931.79 174,931.79 175.47,931.79 176.94,931.79 178.42,931.79 179.89,931.79 181.36,931.79 182.84,931.79 184.31,931.79 185.78,931.78 187.26,931.78 188.73,931.78 190.2,931.78 191.68,931.78 193.15,931.77 194.62,931.77 196.09,931.77 197.57,931.77 199.04,931.76 200.51,931.76 201.99,931.76 203.46,931.75 204.93,931.75 206.4,931.74 207.88,931.74 209.35,931.74 210.82,931.73 212.3,931.72 213.77,931.72 215.24,931.71 216.72,931.71 218.19,931.7 219.66,931.69 221.13,931.68 222.61,931.67 224.08,931.67 225.55,931.66 227.03,931.65 228.5,931.63 229.97,931.62 231.45,931.61 232.92,931.6 234.39,931.59 235.87,931.57 237.34,931.56 238.81,931.54 240.28,931.52 241.76,931.51 243.23,931.49 244.7,931.47 246.18,931.45 247.65,931.43 249.12,931.4 250.59,931.38 252.07,931.35 253.54,931.33 255.01,931.3 256.49,931.27 257.96,931.24 259.43,931.21 260.91,931.18 262.38,931.14 263.85,931.11 265.32,931.07 266.8,931.03 268.27,930.99 269.74,930.94 271.22,930.9 272.69,930.85 274.16,930.8 275.64,930.75 277.11,930.7 278.58,930.64 280.06,930.58 281.53,930.52 283,930.46 284.47,930.39 285.95,930.32 287.42,930.25 288.89,930.18 290.37,930.1 291.84,930.02 293.31,929.94 294.78,929.85 296.26,929.76 297.73,929.67 299.2,929.58 300.68,929.48 302.15,929.37 303.62,929.27 305.1,929.15 306.57,929.04 308.04,928.92 309.51,928.8 310.99,928.67 312.46,928.54 313.93,928.4 315.41,928.26 316.88,928.11 318.35,927.96 319.83,927.8 321.3,927.64 322.77,927.47 324.24,927.3 325.72,927.12 327.19,926.94 328.66,926.75 330.14,926.55 331.61,926.35 333.08,926.14 334.56,925.93 336.03,925.7 337.5,925.48 338.97,925.24 340.45,925 341.92,924.75 343.39,924.49 344.87,924.22 346.34,923.95 347.81,923.67 349.29,923.38 350.76,923.08 352.23,922.78 353.7,922.46 355.18,922.14 356.65,921.81 358.12,921.47 359.6,921.11 361.07,920.75 362.54,920.38 364.02,920 365.49,919.61 366.96,919.21 368.43,918.8 369.91,918.38 371.38,917.94 372.85,917.5 374.33,917.04 375.8,916.57 377.27,916.09 378.75,915.6 380.22,915.1 381.69,914.58 383.16,914.05 384.64,913.51 386.11,912.96 387.58,912.39 389.06,911.8 390.53,911.21 392,910.6 393.48,909.97 394.95,909.33 396.42,908.68 397.89,908.01 399.37,907.33 400.84,906.63 402.31,905.91 403.79,905.18 405.26,904.44 406.73,903.67 408.21,902.89 409.68,902.1 411.15,901.28 412.62,900.45 414.1,899.6 415.57,898.73 417.04,897.85 418.52,896.95 419.99,896.02 421.46,895.08 422.94,894.12 424.41,893.14 425.88,892.14 427.35,891.13 428.83,890.09 430.3,889.03 431.77,887.95 433.25,886.85 434.72,885.73 436.19,884.59 437.67,883.42 439.14,882.24 440.61,881.03 442.08,879.8 443.56,878.55 445.03,877.27 446.5,875.98 447.98,874.66 449.45,873.31 450.92,871.95 452.4,870.56 453.87,869.14 455.34,867.7 456.81,866.24 458.29,864.75 459.76,863.24 461.23,861.7 462.71,860.14 464.18,858.55 465.65,856.94 467.13,855.3 468.6,853.63 470.07,851.94 471.54,850.23 473.02,848.48 474.49,846.71 475.96,844.92 477.44,843.09 478.91,841.24 480.38,839.36 481.86,837.46 483.33,835.53 484.8,833.57 486.27,831.58 487.75,829.57 489.22,827.52 490.69,825.45 492.17,823.36 493.64,821.23 495.11,819.08 496.59,816.89 498.06,814.68 499.53,812.45 501,810.18 502.48,807.88 503.95,805.56 505.42,803.21 506.9,800.83 508.37,798.42 509.84,795.99 511.32,793.52 512.79,791.03 514.26,788.51 515.74,785.97 517.21,783.39 518.68,780.79 520.15,778.16 521.63,775.5 523.1,772.82 524.57,770.11 526.05,767.37 527.52,764.6 528.99,761.81 530.46,758.99 531.94,756.15 533.41,753.28 534.88,750.39 536.36,747.47 537.83,744.53 539.3,741.56 540.78,738.57 542.25,735.55 543.72,732.51 545.19,729.45 546.67,726.36 548.14,723.26 549.61,720.13 551.09,716.98 552.56,713.81 554.03,710.62 555.51,707.42 556.98,704.19 558.45,700.95 559.92,697.68 561.4,694.4 562.87,691.11 564.34,687.8 565.82,684.47 567.29,681.13 568.76,677.78 570.24,674.42 571.71,671.04 573.18,667.66 574.65,664.26 576.13,660.86 577.6,657.44 579.07,654.03 580.55,650.6 582.02,647.17 583.49,643.74 584.97,640.31 586.44,636.87 587.91,633.44 589.38,630.01 590.86,626.57 592.33,623.15 593.8,619.73 595.28,616.31 596.75,612.91 598.22,609.51 599.7,606.12 601.17,602.75 602.64,599.39 604.12,596.05 605.59,592.73 607.06,589.42 608.53,586.14 610.01,582.88 611.48,579.64 612.95,576.44 614.43,573.26 615.9,570.11 617.37,566.99 618.84,563.91 620.32,560.87 621.79,557.86 623.26,554.9 624.74,551.98 626.21,549.11 627.68,546.28 629.16,543.51 630.63,540.79 632.1,538.13 633.57,535.53 635.05,532.98 636.52,530.51 637.99,528.1 639.47,525.76 640.94,523.49 642.41,521.3 643.89,519.19 645.36,517.16 646.83,515.22 648.3,513.37 649.78,511.61 651.25,509.94 652.72,508.38 654.2,506.91 655.67,505.56 657.14,504.31 658.62,503.18 660.09,502.16 661.56,501.27 663.03,500.5 664.51,499.87 665.98,499.36 667.45,499 668.93,498.78 670.4,498.7" fill="none" stroke="#107010" stroke-width="2.35" stroke-linejoin="round"/>
<polyline points="81.2,931.8 82.67,931.8 84.15,931.8 85.62,931.8 87.09,931.8 88.56,931.8 90.04,931.8 91.51,931.8 92.98,931.8 94.46,931.8 95.93,931.8 97.4,931.8 98.88,931.8 100.35,931.8 101.82,931.8 103.3,931.8 104.77,931.8 106.24,931.8 107.71,931.8 109.19,931.8 110.66,931.8 112.13,931.8 113.61,931.8 115.08,931.8 116.55,931.8 118.03,931.8 119.5,931.8 120.97,931.8 122.44,931.8 123.92,931.8 125.39,931.8 126.86,931.8 128.34,931.8 129.81,931.8 131.28,931.8 132.75,931.8 134.23,931.8 135.7,931.8 137.17,931.8 138.65,931.8 140.12,931.8 141.59,931.8 143.07,931.8 144.54,931.8 146.01,931.8 147.49,931.8 148.96,931.8 150.43,931.8 151.9,931.8 153.38,931.8 154.85,931.8 156.32,931.8 157.8,931.8 159.27,931.8 160.74,931.8 162.22,931.8 163.69,931.8 165.16,931.8 166.63,931.8 168.11,931.8 169.58,931.8 171.05,931.8 172.53,931.8 174,931.8 175.47,931.8 176.94,931.8 178.42,931.8 179.89,931.8 181.36,931.8 182.84,931.8 184.31,931.8 185.78,931.8 187.26,931.8 188.73,931.8 190.2,931.8 191.68,931.8 193.15,931.8 194.62,931.8 196.09,931.8 197.57,931.8 199.04,931.8 200.51,931.8 201.99,931.8 203.46,931.8 204.93,931.8 206.4,931.8 207.88,931.8 209.35,931.8 210.82,931.8 212.3,931.8 213.77,931.8 215.24,931.8 216.72,931.8 218.19,931.8 219.66,931.8 221.13,931.8 222.61,931.8 224.08,931.79 225.55,931.79 227.03,931.79 228.5,931.79 229.97,931.79 231.45,931.79 232.92,931.79 234.39,931.79 235.87,931.79 237.34,931.79 238.81,931.79 240.28,931.79 241.76,931.79 243.23,931.79 244.7,931.78 246.18,931.78 247.65,931.78 249.12,931.78 250.59,931.78 252.07,931.78 253.54,931.78 255.01,931.78 256.49,931.77 257.96,931.77 259.43,931.77 260.91,931.77 262.38,931.77 263.85,931.76 265.32,931.76 266.8,931.76 268.27,931.76 269.74,931.75 271.22,931.75 272.69,931.75 274.16,931.74 275.64,931.74 277.11,931.74 278.58,931.73 280.06,931.73 281.53,931.72 283,931.72 284.47,931.71 285.95,931.71 287.42,931.7 288.89,931.7 290.37,931.69 291.84,931.68 293.31,931.68 294.78,931.67 296.26,931.66 297.73,931.66 299.2,931.65 300.68,931.64 302.15,931.63 303.62,931.62 305.1,931.61 306.57,931.6 308.04,931.59 309.51,931.58 310.99,931.57 312.46,931.56 313.93,931.54 315.41,931.53 316.88,931.52 318.35,931.5 319.83,931.49 321.3,931.47 322.77,931.45 324.24,931.44 325.72,931.42 327.19,931.4 328.66,931.38 330.14,931.36 331.61,931.34 333.08,931.32 334.56,931.29 336.03,931.27 337.5,931.24 338.97,931.22 340.45,931.19 341.92,931.16 343.39,931.13 344.87,931.1 346.34,931.07 347.81,931.04 349.29,931 350.76,930.97 352.23,930.93 353.7,930.89 355.18,930.85 356.65,930.81 358.12,930.77 359.6,930.72 361.07,930.68 362.54,930.63 364.02,930.58 365.49,930.53 366.96,930.47 368.43,930.42 369.91,930.36 371.38,930.3 372.85,930.24 374.33,930.17 375.8,930.11 377.27,930.04 378.75,929.97 380.22,929.89 381.69,929.82 383.16,929.74 384.64,929.66 386.11,929.57 387.58,929.48 389.06,929.39 390.53,929.3 392,929.2 393.48,929.1 394.95,929 396.42,928.89 397.89,928.78 399.37,928.67 400.84,928.55 402.31,928.43 403.79,928.3 405.26,928.17 406.73,928.04 408.21,927.9 409.68,927.76 411.15,927.61 412.62,927.46 414.1,927.3 415.57,927.14 417.04,926.97 418.52,926.8 419.99,926.62 421.46,926.44 422.94,926.25 424.41,926.06 425.88,925.86 427.35,925.65 428.83,925.44 430.3,925.22 431.77,925 433.25,924.76 434.72,924.53 436.19,924.28 437.67,924.03 439.14,923.77 440.61,923.5 442.08,923.22 443.56,922.94 445.03,922.64 446.5,922.34 447.98,922.03 449.45,921.72 450.92,921.39 452.4,921.05 453.87,920.71 455.34,920.35 456.81,919.99 458.29,919.61 459.76,919.22 461.23,918.83 462.71,918.42 464.18,918 465.65,917.57 467.13,917.13 468.6,916.67 470.07,916.21 471.54,915.73 473.02,915.24 474.49,914.73 475.96,914.21 477.44,913.68 478.91,913.14 480.38,912.58 481.86,912 483.33,911.41 484.8,910.81 486.27,910.18 487.75,909.55 489.22,908.89 490.69,908.22 492.17,907.54 493.64,906.83 495.11,906.11 496.59,905.37 498.06,904.61 499.53,903.83 501,903.03 502.48,902.22 503.95,901.38 505.42,900.52 506.9,899.64 508.37,898.74 509.84,897.82 511.32,896.87 512.79,895.9 514.26,894.91 515.74,893.9 517.21,892.86 518.68,891.79 520.15,890.7 521.63,889.58 523.1,888.44 524.57,887.27 526.05,886.07 527.52,884.85 528.99,883.59 530.46,882.31 531.94,881 533.41,879.65 534.88,878.28 536.36,876.87 537.83,875.44 539.3,873.96 540.78,872.46 542.25,870.92 543.72,869.35 545.19,867.74 546.67,866.09 548.14,864.41 549.61,862.69 551.09,860.93 552.56,859.14 554.03,857.3 555.51,855.42 556.98,853.51 558.45,851.55 559.92,849.54 561.4,847.5 562.87,845.4 564.34,843.27 565.82,841.09 567.29,838.86 568.76,836.58 570.24,834.25 571.71,831.88 573.18,829.45 574.65,826.97 576.13,824.44 577.6,821.86 579.07,819.23 580.55,816.53 582.02,813.78 583.49,810.98 584.97,808.11 586.44,805.19 587.91,802.21 589.38,799.16 590.86,796.06 592.33,792.89 593.8,789.65 595.28,786.35 596.75,782.98 598.22,779.55 599.7,776.04 601.17,772.47 602.64,768.82 604.12,765.1 605.59,761.31 607.06,757.44 608.53,753.49 610.01,749.47 611.48,745.36 612.95,741.18 614.43,736.92 615.9,732.57 617.37,728.13 618.84,723.61 620.32,719.01 621.79,714.31 623.26,709.52 624.74,704.65 626.21,699.67 627.68,694.61 629.16,689.45 630.63,684.18 632.1,678.82 633.57,673.36 635.05,667.8 636.52,662.13 637.99,656.35 639.47,650.47 640.94,644.47 642.41,638.37 643.89,632.15 645.36,625.82 646.83,619.37 648.3,612.8 649.78,606.11 651.25,599.3 652.72,592.36 654.2,585.3 655.67,578.11 657.14,570.79 658.62,563.33 660.09,555.75 661.56,548.02 663.03,540.16 664.51,532.16 665.98,524.01 667.45,515.72 668.93,507.29 670.4,498.7" fill="none" stroke="#0a4a0a" stroke-width="2.35" stroke-linejoin="round"/>
</g>
<line x1="110.36" y1="930.8" x2="110.36" y2="788.62" stroke="#6a6a6a" stroke-width="1.1" stroke-dasharray="3.2,3"/>
<line x1="110.66" y1="788.62" x2="669.4" y2="788.62" stroke="#6a6a6a" stroke-width="1.1" stroke-dasharray="3.2,3"/>
<rect x="281" y="846" width="386" height="68.5" fill="#fff"/>
<line x1="283.8" y1="862.6" x2="291.6" y2="862.6" stroke="#008000" stroke-width="1.8" />
<line x1="319.8" y1="862.6" x2="327.4" y2="862.6" stroke="#008000" stroke-width="1.8" />
<circle cx="308.1" cy="862.6" r="9.2" fill="#008000"/>
<circle cx="305.62" cy="860.02" r="5.15" fill="url(#hl)"/>
<text x="338.4" y="869.4" font-size="21.5" style="font-family:&quot;Liberation Serif&quot;,serif">&#956;</text>
<text x="350" y="875.3" font-size="13.8">ord</text>
<text transform="translate(382.6,869.8) scale(1.077,1)" font-size="18">from neutron diff. [Williams <tspan font-style="italic">et al.</tspan>]</text>
<line x1="283.8" y1="896.2" x2="291.6" y2="896.2" stroke="#ff8000" stroke-width="1.8" />
<line x1="319.8" y1="896.2" x2="327.4" y2="896.2" stroke="#ff8000" stroke-width="1.8" />
<circle cx="308.1" cy="896.2" r="9.2" fill="#ff8000"/>
<circle cx="305.62" cy="893.62" r="5.15" fill="url(#hl)"/>
<text x="338.4" y="903" font-size="21.5" style="font-family:&quot;Liberation Serif&quot;,serif">&#956;</text>
<text x="350" y="908.9" font-size="13.8">ord</text>
<text transform="translate(382.6,903.4) scale(1.077,1)" font-size="18">from neutron diff. [Das <tspan font-style="italic">et al.</tspan>]</text>
<g clip-path="url(#cpB)">
<polyline points="87.09,909.18 95.93,685.9 110.66,647.88 140.12,647.88 169.58,614.19" fill="none" stroke="#008000" stroke-width="1.9" stroke-dasharray="6.8,5.2"/>
<circle cx="87.09" cy="909.18" r="9.0" fill="#008000"/>
<circle cx="84.66" cy="906.66" r="5.04" fill="url(#hl)"/>
<circle cx="95.93" cy="685.9" r="9.0" fill="#008000"/>
<circle cx="93.5" cy="683.38" r="5.04" fill="url(#hl)"/>
<circle cx="110.66" cy="647.88" r="9.0" fill="#008000"/>
<circle cx="108.23" cy="645.36" r="5.04" fill="url(#hl)"/>
<circle cx="140.12" cy="647.88" r="9.0" fill="#008000"/>
<circle cx="137.69" cy="645.36" r="5.04" fill="url(#hl)"/>
<circle cx="169.58" cy="614.19" r="9.0" fill="#008000"/>
<circle cx="167.15" cy="611.67" r="5.04" fill="url(#hl)"/>
<polyline points="88.56,871.31 95.93,787.67 110.66,527.57 125.39,536.38 140.12,550.86 154.85,546.82 169.58,570.88 287.42,643.07" fill="none" stroke="#ff8000" stroke-width="1.9" stroke-dasharray="6.8,5.2"/>
<circle cx="88.56" cy="871.31" r="9.0" fill="#ff8000"/>
<circle cx="86.13" cy="868.79" r="5.04" fill="url(#hl)"/>
<circle cx="95.93" cy="787.67" r="9.0" fill="#ff8000"/>
<circle cx="93.5" cy="785.15" r="5.04" fill="url(#hl)"/>
<circle cx="110.66" cy="527.57" r="9.0" fill="#ff8000"/>
<circle cx="108.23" cy="525.05" r="5.04" fill="url(#hl)"/>
<circle cx="125.39" cy="536.38" r="9.0" fill="#ff8000"/>
<circle cx="122.96" cy="533.86" r="5.04" fill="url(#hl)"/>
<circle cx="140.12" cy="550.86" r="9.0" fill="#ff8000"/>
<circle cx="137.69" cy="548.34" r="5.04" fill="url(#hl)"/>
<circle cx="154.85" cy="546.82" r="9.0" fill="#ff8000"/>
<circle cx="152.42" cy="544.3" r="5.04" fill="url(#hl)"/>
<circle cx="169.58" cy="570.88" r="9.0" fill="#ff8000"/>
<circle cx="167.15" cy="568.36" r="5.04" fill="url(#hl)"/>
<circle cx="287.42" cy="643.07" r="9.0" fill="#ff8000"/>
<circle cx="284.99" cy="640.55" r="5.04" fill="url(#hl)"/>
</g>
<text x="71" y="940.6" font-size="27.5" text-anchor="end" fill="#000" font-family='"Liberation Sans", sans-serif' >0.0</text>
<text x="71" y="844.36" font-size="27.5" text-anchor="end" fill="#000" font-family='"Liberation Sans", sans-serif' >0.2</text>
<text x="71" y="748.11" font-size="27.5" text-anchor="end" fill="#000" font-family='"Liberation Sans", sans-serif' >0.4</text>
<text x="71" y="651.87" font-size="27.5" text-anchor="end" fill="#000" font-family='"Liberation Sans", sans-serif' >0.6</text>
<text x="71" y="555.62" font-size="27.5" text-anchor="end" fill="#000" font-family='"Liberation Sans", sans-serif' >0.8</text>
<text x="81.2" y="963.7" font-size="27.5" text-anchor="middle" fill="#000" font-family='"Liberation Sans", sans-serif' >0.0</text>
<text x="140.12" y="963.7" font-size="27.5" text-anchor="middle" fill="#000" font-family='"Liberation Sans", sans-serif' >0.2</text>
<text x="199.04" y="963.7" font-size="27.5" text-anchor="middle" fill="#000" font-family='"Liberation Sans", sans-serif' >0.4</text>
<text x="257.96" y="963.7" font-size="27.5" text-anchor="middle" fill="#000" font-family='"Liberation Sans", sans-serif' >0.6</text>
<text x="316.88" y="963.7" font-size="27.5" text-anchor="middle" fill="#000" font-family='"Liberation Sans", sans-serif' >0.8</text>
<text x="375.8" y="963.7" font-size="27.5" text-anchor="middle" fill="#000" font-family='"Liberation Sans", sans-serif' >1.0</text>
<text x="434.72" y="963.7" font-size="27.5" text-anchor="middle" fill="#000" font-family='"Liberation Sans", sans-serif' >1.2</text>
<text x="493.64" y="963.7" font-size="27.5" text-anchor="middle" fill="#000" font-family='"Liberation Sans", sans-serif' >1.4</text>
<text x="552.56" y="963.7" font-size="27.5" text-anchor="middle" fill="#000" font-family='"Liberation Sans", sans-serif' >1.6</text>
<text x="611.48" y="963.7" font-size="27.5" text-anchor="middle" fill="#000" font-family='"Liberation Sans", sans-serif' >1.8</text>
<text x="670.4" y="963.7" font-size="27.5" text-anchor="middle" fill="#000" font-family='"Liberation Sans", sans-serif' >2.0</text>
<text x="676" y="941.8" font-size="27.7" text-anchor="start" fill="#000" font-family='"Liberation Sans", sans-serif' >0</text>
<text x="676" y="855.18" font-size="27.7" text-anchor="start" fill="#000" font-family='"Liberation Sans", sans-serif' >20</text>
<text x="676" y="768.56" font-size="27.7" text-anchor="start" fill="#000" font-family='"Liberation Sans", sans-serif' >40</text>
<text x="676" y="681.94" font-size="27.7" text-anchor="start" fill="#000" font-family='"Liberation Sans", sans-serif' >60</text>
<text x="676" y="595.32" font-size="27.7" text-anchor="start" fill="#000" font-family='"Liberation Sans", sans-serif' >80</text>
<text x="676" y="508.7" font-size="27.7" text-anchor="start" fill="#000" font-family='"Liberation Sans", sans-serif' >100</text>
<text x="174.2" y="536.2" font-size="25.5"><tspan font-style="italic">n</tspan>=1</text>
<text x="259.6" y="584.8" font-size="25.5" text-anchor="middle" fill="#000" font-family='"Liberation Sans", sans-serif' >2</text>
<text x="339.3" y="584.8" font-size="25.5" text-anchor="middle" fill="#000" font-family='"Liberation Sans", sans-serif' >3</text>
<text x="408.2" y="584.8" font-size="25.5" text-anchor="middle" fill="#000" font-family='"Liberation Sans", sans-serif' >4</text>
<text x="477.4" y="584.8" font-size="25.5" text-anchor="middle" fill="#000" font-family='"Liberation Sans", sans-serif' >5</text>
<text x="547.8" y="584.8" font-size="25.5" text-anchor="middle" fill="#000" font-family='"Liberation Sans", sans-serif' >6</text>
<text x="601.2" y="584.8" font-size="25.5" text-anchor="middle" fill="#000" font-family='"Liberation Sans", sans-serif' >7</text>
<text x="642.6" y="584.8" font-size="25.5" text-anchor="middle" fill="#000" font-family='"Liberation Sans", sans-serif' >8</text>
<polyline points="578.7,668.4 578.7,687.3 600,687.3" fill="none" stroke="#000" stroke-width="1.3"/>
<polygon points="599.1,681 617.3,687.2 599.1,693.4" fill="#000"/>
<text transform="translate(29.9,714.4) rotate(-90)" font-size="27.4" text-anchor="middle">ordered magnetic moment (&#956;<tspan font-size="19.5" dy="7">B</tspan><tspan dy="-7">/U)</tspan></text>
<text transform="translate(715.6,694.4) rotate(90)" font-size="27.65" text-anchor="middle">Probability <tspan font-style="italic">p</tspan><tspan font-style="italic" font-size="20" dy="8.5" font-family='"Liberation Serif", serif'>n</tspan><tspan dy="-8.5">(</tspan><tspan font-style="italic">x</tspan>) (%)</text>
<text x="263" y="998" font-size="26.8">x in URu<tspan font-size="18.5" dy="6.4">2-x</tspan><tspan dy="-6.4">Fe</tspan><tspan font-size="18.5" dy="6.4">x</tspan><tspan dy="-6.4">Si</tspan><tspan font-size="18.5" dy="6.4">2</tspan></text>
</g>
</svg></body></html>
